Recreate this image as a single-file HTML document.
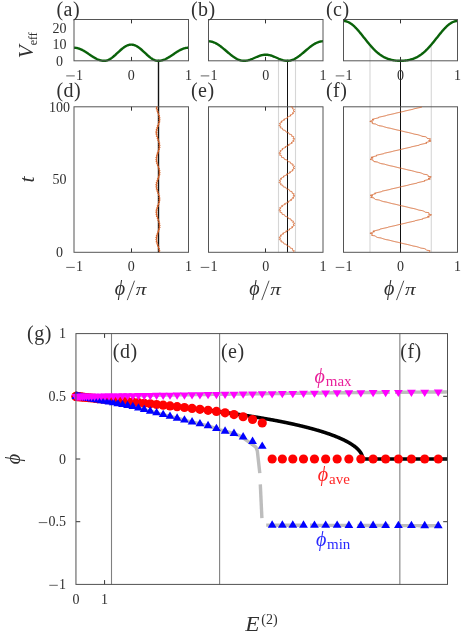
<!DOCTYPE html>
<html><head><meta charset="utf-8"><title>figure</title>
<style>
html,body{margin:0;padding:0;background:#fff;}
body{width:463px;height:635px;overflow:hidden;font-family:"Liberation Serif",serif;}
svg{display:block;}
svg text{font-family:"Liberation Serif",serif;}
</style></head><body>
<svg width="463" height="635" viewBox="0 0 463 635">
<rect width="463" height="635" fill="#fff"/>
<g opacity="0.999">
<line x1="157.50" y1="60.72" x2="157.50" y2="252.30" stroke="#c4c4c4" stroke-width="0.8" />
<line x1="159.50" y1="60.72" x2="159.50" y2="252.30" stroke="#c4c4c4" stroke-width="0.8" />
<line x1="158.50" y1="59.80" x2="158.50" y2="252.30" stroke="#111" stroke-width="1" />
<clipPath id="c10"><rect x="74.0" y="19.5" width="114.5" height="42.5"/></clipPath>
<path d="M74.00,47.75 L74.57,47.76 L75.15,47.80 L75.72,47.85 L76.29,47.93 L76.86,48.04 L77.44,48.16 L78.01,48.31 L78.58,48.48 L79.15,48.66 L79.72,48.87 L80.30,49.10 L80.87,49.35 L81.44,49.61 L82.02,49.89 L82.59,50.18 L83.16,50.49 L83.73,50.82 L84.31,51.15 L84.88,51.50 L85.45,51.86 L86.02,52.22 L86.59,52.59 L87.17,52.97 L87.74,53.35 L88.31,53.74 L88.88,54.13 L89.46,54.52 L90.03,54.91 L90.60,55.29 L91.18,55.67 L91.75,56.05 L92.32,56.42 L92.89,56.78 L93.47,57.14 L94.04,57.48 L94.61,57.81 L95.18,58.13 L95.75,58.44 L96.33,58.73 L96.90,59.01 L97.47,59.27 L98.04,59.51 L98.62,59.73 L99.19,59.93 L99.76,60.12 L100.33,60.28 L100.91,60.42 L101.48,60.54 L102.05,60.64 L102.62,60.71 L103.20,60.76 L103.77,60.79 L104.34,60.80 L104.92,60.77 L105.49,60.71 L106.06,60.61 L106.63,60.48 L107.20,60.31 L107.78,60.11 L108.35,59.88 L108.92,59.61 L109.50,59.32 L110.07,58.99 L110.64,58.64 L111.21,58.26 L111.78,57.86 L112.36,57.43 L112.93,56.98 L113.50,56.52 L114.07,56.03 L114.65,55.54 L115.22,55.03 L115.79,54.51 L116.36,53.98 L116.94,53.44 L117.51,52.91 L118.08,52.37 L118.66,51.83 L119.23,51.30 L119.80,50.77 L120.37,50.26 L120.94,49.75 L121.52,49.25 L122.09,48.77 L122.66,48.31 L123.23,47.87 L123.81,47.45 L124.38,47.05 L124.95,46.68 L125.53,46.33 L126.10,46.02 L126.67,45.73 L127.24,45.47 L127.81,45.25 L128.39,45.05 L128.96,44.89 L129.53,44.77 L130.10,44.68 L130.68,44.63 L131.25,44.61 L131.82,44.63 L132.40,44.68 L132.97,44.77 L133.54,44.89 L134.11,45.05 L134.69,45.25 L135.26,45.47 L135.83,45.73 L136.40,46.02 L136.97,46.33 L137.55,46.68 L138.12,47.05 L138.69,47.45 L139.26,47.87 L139.84,48.31 L140.41,48.77 L140.98,49.25 L141.56,49.75 L142.13,50.26 L142.70,50.77 L143.27,51.30 L143.84,51.83 L144.42,52.37 L144.99,52.91 L145.56,53.44 L146.13,53.98 L146.71,54.51 L147.28,55.03 L147.85,55.54 L148.43,56.03 L149.00,56.52 L149.57,56.98 L150.14,57.43 L150.72,57.86 L151.29,58.26 L151.86,58.64 L152.43,58.99 L153.00,59.32 L153.58,59.61 L154.15,59.88 L154.72,60.11 L155.29,60.31 L155.87,60.48 L156.44,60.61 L157.01,60.71 L157.59,60.77 L158.16,60.80 L158.73,60.79 L159.30,60.76 L159.88,60.71 L160.45,60.64 L161.02,60.54 L161.59,60.42 L162.16,60.28 L162.74,60.12 L163.31,59.93 L163.88,59.73 L164.46,59.51 L165.03,59.27 L165.60,59.01 L166.17,58.73 L166.75,58.44 L167.32,58.13 L167.89,57.81 L168.46,57.48 L169.03,57.14 L169.61,56.78 L170.18,56.42 L170.75,56.05 L171.32,55.67 L171.90,55.29 L172.47,54.91 L173.04,54.52 L173.62,54.13 L174.19,53.74 L174.76,53.35 L175.33,52.97 L175.91,52.59 L176.48,52.22 L177.05,51.86 L177.62,51.50 L178.19,51.15 L178.77,50.82 L179.34,50.49 L179.91,50.18 L180.49,49.89 L181.06,49.61 L181.63,49.35 L182.20,49.10 L182.77,48.87 L183.35,48.66 L183.92,48.48 L184.49,48.31 L185.06,48.16 L185.64,48.04 L186.21,47.93 L186.78,47.85 L187.35,47.80 L187.93,47.76 L188.50,47.75" fill="none" stroke="#0a620a" stroke-width="2.4" stroke-linejoin="round" clip-path="url(#c10)"/>
<rect x="74.00" y="19.50" width="114.50" height="41.30" fill="none" stroke="#555" stroke-width="1"/>
<rect x="74.00" y="106.80" width="114.50" height="145.50" fill="none" stroke="#555" stroke-width="1"/>
<line x1="131.50" y1="19.50" x2="131.50" y2="23.40" stroke="#333" stroke-width="1" />
<line x1="131.50" y1="60.80" x2="131.50" y2="56.90" stroke="#333" stroke-width="1" />
<line x1="131.50" y1="106.80" x2="131.50" y2="110.70" stroke="#333" stroke-width="1" />
<line x1="131.50" y1="252.30" x2="131.50" y2="248.40" stroke="#333" stroke-width="1" />
<line x1="66.23" y1="75.90" x2="74.77" y2="75.90" stroke="#303030" stroke-width="0.75" />
<text x="75.96" y="79.50" font-size="14" text-anchor="start" fill="#303030" style="" >1</text>
<text x="127.75" y="79.50" font-size="14" text-anchor="start" fill="#303030" style="" >0</text>
<text x="185.00" y="79.50" font-size="14" text-anchor="start" fill="#303030" style="" >1</text>
<line x1="66.23" y1="267.40" x2="74.77" y2="267.40" stroke="#303030" stroke-width="0.75" />
<text x="75.96" y="271.00" font-size="14" text-anchor="start" fill="#303030" style="" >1</text>
<text x="127.75" y="271.00" font-size="14" text-anchor="start" fill="#303030" style="" >0</text>
<text x="185.00" y="271.00" font-size="14" text-anchor="start" fill="#303030" style="" >1</text>
<text x="114.65" y="295.30" font-size="20" text-anchor="start" fill="#303030" style="font-style:italic" >ϕ</text>
<line x1="127.25" y1="300.10" x2="134.55" y2="280.70" stroke="#303030" stroke-width="0.85" />
<g transform="translate(135.85,295.30) scale(1.12,0.9)"><text x="0" y="0" font-size="19" font-style="italic" fill="#303030">π</text></g>
<line x1="278.50" y1="58.59" x2="278.50" y2="252.30" stroke="#d6d6d6" stroke-width="1.1" />
<line x1="295.50" y1="58.59" x2="295.50" y2="252.30" stroke="#d6d6d6" stroke-width="1.1" />
<line x1="287.50" y1="59.80" x2="287.50" y2="252.30" stroke="#111" stroke-width="1" />
<clipPath id="c11"><rect x="208.5" y="19.5" width="114.5" height="42.5"/></clipPath>
<path d="M208.50,41.31 L209.07,41.32 L209.65,41.36 L210.22,41.42 L210.79,41.50 L211.36,41.62 L211.94,41.75 L212.51,41.91 L213.08,42.09 L213.65,42.30 L214.22,42.52 L214.80,42.77 L215.37,43.04 L215.94,43.33 L216.51,43.64 L217.09,43.97 L217.66,44.32 L218.23,44.68 L218.81,45.06 L219.38,45.46 L219.95,45.87 L220.52,46.29 L221.09,46.73 L221.67,47.18 L222.24,47.63 L222.81,48.10 L223.38,48.57 L223.96,49.05 L224.53,49.53 L225.10,50.02 L225.68,50.51 L226.25,51.00 L226.82,51.50 L227.39,51.99 L227.97,52.48 L228.54,52.96 L229.11,53.44 L229.68,53.91 L230.25,54.38 L230.83,54.84 L231.40,55.29 L231.97,55.73 L232.54,56.15 L233.12,56.57 L233.69,56.96 L234.26,57.35 L234.84,57.72 L235.41,58.07 L235.98,58.40 L236.55,58.71 L237.12,59.01 L237.70,59.28 L238.27,59.53 L238.84,59.77 L239.41,59.98 L239.99,60.16 L240.56,60.33 L241.13,60.47 L241.70,60.58 L242.28,60.67 L242.85,60.74 L243.42,60.78 L244.00,60.80 L244.57,60.79 L245.14,60.77 L245.71,60.72 L246.28,60.65 L246.86,60.56 L247.43,60.45 L248.00,60.32 L248.57,60.18 L249.15,60.02 L249.72,59.84 L250.29,59.65 L250.87,59.44 L251.44,59.23 L252.01,59.00 L252.58,58.77 L253.16,58.52 L253.73,58.27 L254.30,58.02 L254.87,57.77 L255.44,57.52 L256.02,57.26 L256.59,57.01 L257.16,56.77 L257.74,56.53 L258.31,56.30 L258.88,56.09 L259.45,55.88 L260.02,55.68 L260.60,55.50 L261.17,55.34 L261.74,55.19 L262.31,55.06 L262.89,54.95 L263.46,54.85 L264.03,54.78 L264.61,54.73 L265.18,54.70 L265.75,54.69 L266.32,54.70 L266.89,54.73 L267.47,54.78 L268.04,54.85 L268.61,54.95 L269.19,55.06 L269.76,55.19 L270.33,55.34 L270.90,55.50 L271.48,55.68 L272.05,55.88 L272.62,56.09 L273.19,56.30 L273.76,56.53 L274.34,56.77 L274.91,57.01 L275.48,57.26 L276.06,57.52 L276.63,57.77 L277.20,58.02 L277.77,58.27 L278.35,58.52 L278.92,58.77 L279.49,59.00 L280.06,59.23 L280.63,59.44 L281.21,59.65 L281.78,59.84 L282.35,60.02 L282.93,60.18 L283.50,60.32 L284.07,60.45 L284.64,60.56 L285.22,60.65 L285.79,60.72 L286.36,60.77 L286.93,60.79 L287.50,60.80 L288.08,60.78 L288.65,60.74 L289.22,60.67 L289.80,60.58 L290.37,60.47 L290.94,60.33 L291.51,60.16 L292.08,59.98 L292.66,59.77 L293.23,59.53 L293.80,59.28 L294.38,59.01 L294.95,58.71 L295.52,58.40 L296.09,58.07 L296.67,57.72 L297.24,57.35 L297.81,56.96 L298.38,56.57 L298.95,56.15 L299.53,55.73 L300.10,55.29 L300.67,54.84 L301.25,54.38 L301.82,53.91 L302.39,53.44 L302.96,52.96 L303.53,52.48 L304.11,51.99 L304.68,51.50 L305.25,51.00 L305.82,50.51 L306.40,50.02 L306.97,49.53 L307.54,49.05 L308.12,48.57 L308.69,48.10 L309.26,47.63 L309.83,47.18 L310.40,46.73 L310.98,46.29 L311.55,45.87 L312.12,45.46 L312.69,45.06 L313.27,44.68 L313.84,44.32 L314.41,43.97 L314.99,43.64 L315.56,43.33 L316.13,43.04 L316.70,42.77 L317.27,42.52 L317.85,42.30 L318.42,42.09 L318.99,41.91 L319.56,41.75 L320.14,41.62 L320.71,41.50 L321.28,41.42 L321.86,41.36 L322.43,41.32 L323.00,41.31" fill="none" stroke="#0a620a" stroke-width="2.4" stroke-linejoin="round" clip-path="url(#c11)"/>
<rect x="208.50" y="19.50" width="114.50" height="41.30" fill="none" stroke="#555" stroke-width="1"/>
<rect x="208.50" y="106.80" width="114.50" height="145.50" fill="none" stroke="#555" stroke-width="1"/>
<line x1="265.50" y1="19.50" x2="265.50" y2="23.40" stroke="#333" stroke-width="1" />
<line x1="265.50" y1="60.80" x2="265.50" y2="56.90" stroke="#333" stroke-width="1" />
<line x1="265.50" y1="106.80" x2="265.50" y2="110.70" stroke="#333" stroke-width="1" />
<line x1="265.50" y1="252.30" x2="265.50" y2="248.40" stroke="#333" stroke-width="1" />
<line x1="200.73" y1="75.90" x2="209.27" y2="75.90" stroke="#303030" stroke-width="0.75" />
<text x="210.46" y="79.50" font-size="14" text-anchor="start" fill="#303030" style="" >1</text>
<text x="262.25" y="79.50" font-size="14" text-anchor="start" fill="#303030" style="" >0</text>
<text x="319.50" y="79.50" font-size="14" text-anchor="start" fill="#303030" style="" >1</text>
<line x1="200.73" y1="267.40" x2="209.27" y2="267.40" stroke="#303030" stroke-width="0.75" />
<text x="210.46" y="271.00" font-size="14" text-anchor="start" fill="#303030" style="" >1</text>
<text x="262.25" y="271.00" font-size="14" text-anchor="start" fill="#303030" style="" >0</text>
<text x="319.50" y="271.00" font-size="14" text-anchor="start" fill="#303030" style="" >1</text>
<text x="249.15" y="295.30" font-size="20" text-anchor="start" fill="#303030" style="font-style:italic" >ϕ</text>
<line x1="261.75" y1="300.10" x2="269.05" y2="280.70" stroke="#303030" stroke-width="0.85" />
<g transform="translate(270.35,295.30) scale(1.12,0.9)"><text x="0" y="0" font-size="19" font-style="italic" fill="#303030">π</text></g>
<line x1="370.00" y1="45.01" x2="370.00" y2="252.30" stroke="#d6d6d6" stroke-width="1.1" />
<line x1="431.28" y1="44.67" x2="431.28" y2="252.30" stroke="#d6d6d6" stroke-width="1.1" />
<line x1="400.50" y1="59.80" x2="400.50" y2="252.30" stroke="#111" stroke-width="1" />
<clipPath id="c12"><rect x="343.5" y="19.5" width="114.0" height="42.5"/></clipPath>
<path d="M343.50,20.99 L344.07,21.00 L344.64,21.05 L345.21,21.13 L345.78,21.24 L346.35,21.39 L346.92,21.56 L347.49,21.77 L348.06,22.01 L348.63,22.27 L349.20,22.57 L349.77,22.90 L350.34,23.25 L350.91,23.63 L351.48,24.04 L352.05,24.47 L352.62,24.93 L353.19,25.41 L353.76,25.92 L354.33,26.44 L354.90,26.99 L355.47,27.56 L356.04,28.15 L356.61,28.75 L357.18,29.37 L357.75,30.01 L358.32,30.65 L358.89,31.32 L359.46,31.99 L360.03,32.67 L360.60,33.37 L361.17,34.07 L361.74,34.77 L362.31,35.48 L362.88,36.20 L363.45,36.92 L364.02,37.64 L364.59,38.36 L365.16,39.08 L365.73,39.80 L366.30,40.51 L366.87,41.22 L367.44,41.93 L368.01,42.62 L368.58,43.32 L369.15,44.00 L369.72,44.67 L370.29,45.34 L370.86,46.00 L371.43,46.64 L372.00,47.27 L372.57,47.89 L373.14,48.49 L373.71,49.09 L374.28,49.66 L374.85,50.23 L375.42,50.78 L375.99,51.31 L376.56,51.83 L377.13,52.33 L377.70,52.81 L378.27,53.28 L378.84,53.73 L379.41,54.17 L379.98,54.59 L380.55,54.99 L381.12,55.38 L381.69,55.75 L382.26,56.11 L382.83,56.44 L383.40,56.77 L383.97,57.08 L384.54,57.37 L385.11,57.65 L385.68,57.91 L386.25,58.16 L386.82,58.39 L387.39,58.61 L387.96,58.82 L388.53,59.02 L389.10,59.20 L389.67,59.37 L390.24,59.53 L390.81,59.68 L391.38,59.82 L391.95,59.94 L392.52,60.06 L393.09,60.17 L393.66,60.27 L394.23,60.35 L394.80,60.43 L395.37,60.51 L395.94,60.57 L396.51,60.62 L397.08,60.67 L397.65,60.71 L398.22,60.74 L398.79,60.77 L399.36,60.79 L399.93,60.80 L400.50,60.80 L401.07,60.80 L401.64,60.79 L402.21,60.77 L402.78,60.74 L403.35,60.71 L403.92,60.67 L404.49,60.62 L405.06,60.57 L405.63,60.51 L406.20,60.43 L406.77,60.35 L407.34,60.27 L407.91,60.17 L408.48,60.06 L409.05,59.94 L409.62,59.82 L410.19,59.68 L410.76,59.53 L411.33,59.37 L411.90,59.20 L412.47,59.02 L413.04,58.82 L413.61,58.61 L414.18,58.39 L414.75,58.16 L415.32,57.91 L415.89,57.65 L416.46,57.37 L417.03,57.08 L417.60,56.77 L418.17,56.44 L418.74,56.11 L419.31,55.75 L419.88,55.38 L420.45,54.99 L421.02,54.59 L421.59,54.17 L422.16,53.73 L422.73,53.28 L423.30,52.81 L423.87,52.33 L424.44,51.83 L425.01,51.31 L425.58,50.78 L426.15,50.23 L426.72,49.66 L427.29,49.09 L427.86,48.49 L428.43,47.89 L429.00,47.27 L429.57,46.64 L430.14,46.00 L430.71,45.34 L431.28,44.67 L431.85,44.00 L432.42,43.32 L432.99,42.62 L433.56,41.93 L434.13,41.22 L434.70,40.51 L435.27,39.80 L435.84,39.08 L436.41,38.36 L436.98,37.64 L437.55,36.92 L438.12,36.20 L438.69,35.48 L439.26,34.77 L439.83,34.07 L440.40,33.37 L440.97,32.67 L441.54,31.99 L442.11,31.32 L442.68,30.65 L443.25,30.01 L443.82,29.37 L444.39,28.75 L444.96,28.15 L445.53,27.56 L446.10,26.99 L446.67,26.44 L447.24,25.92 L447.81,25.41 L448.38,24.93 L448.95,24.47 L449.52,24.04 L450.09,23.63 L450.66,23.25 L451.23,22.90 L451.80,22.57 L452.37,22.27 L452.94,22.01 L453.51,21.77 L454.08,21.56 L454.65,21.39 L455.22,21.24 L455.79,21.13 L456.36,21.05 L456.93,21.00 L457.50,20.99" fill="none" stroke="#0a620a" stroke-width="2.4" stroke-linejoin="round" clip-path="url(#c12)"/>
<rect x="343.50" y="19.50" width="114.00" height="41.30" fill="none" stroke="#555" stroke-width="1"/>
<rect x="343.50" y="106.80" width="114.00" height="145.50" fill="none" stroke="#555" stroke-width="1"/>
<line x1="400.50" y1="19.50" x2="400.50" y2="23.40" stroke="#333" stroke-width="1" />
<line x1="400.50" y1="60.80" x2="400.50" y2="56.90" stroke="#333" stroke-width="1" />
<line x1="400.50" y1="106.80" x2="400.50" y2="110.70" stroke="#333" stroke-width="1" />
<line x1="400.50" y1="252.30" x2="400.50" y2="248.40" stroke="#333" stroke-width="1" />
<line x1="335.73" y1="75.90" x2="344.27" y2="75.90" stroke="#303030" stroke-width="0.75" />
<text x="345.46" y="79.50" font-size="14" text-anchor="start" fill="#303030" style="" >1</text>
<text x="397.00" y="79.50" font-size="14" text-anchor="start" fill="#303030" style="" >0</text>
<text x="454.00" y="79.50" font-size="14" text-anchor="start" fill="#303030" style="" >1</text>
<line x1="335.73" y1="267.40" x2="344.27" y2="267.40" stroke="#303030" stroke-width="0.75" />
<text x="345.46" y="271.00" font-size="14" text-anchor="start" fill="#303030" style="" >1</text>
<text x="397.00" y="271.00" font-size="14" text-anchor="start" fill="#303030" style="" >0</text>
<text x="454.00" y="271.00" font-size="14" text-anchor="start" fill="#303030" style="" >1</text>
<text x="383.90" y="295.30" font-size="20" text-anchor="start" fill="#303030" style="font-style:italic" >ϕ</text>
<line x1="396.50" y1="300.10" x2="403.80" y2="280.70" stroke="#303030" stroke-width="0.85" />
<g transform="translate(405.10,295.30) scale(1.12,0.9)"><text x="0" y="0" font-size="19" font-style="italic" fill="#303030">π</text></g>
<path d="M158.96,252.30 L159.03,252.18 L159.11,252.06 L159.18,251.94 L159.25,251.81 L159.32,251.69 L159.39,251.57 L159.46,251.45 L159.53,251.33 L159.59,251.21 L159.66,251.09 L159.72,250.97 L159.78,250.84 L159.84,250.72 L159.75,250.60 L159.46,250.48 L159.18,250.36 L158.89,250.24 L158.80,250.12 L158.86,250.00 L158.91,249.88 L158.96,249.75 L159.01,249.63 L159.06,249.51 L159.11,249.39 L159.16,249.27 L159.20,249.15 L159.25,249.03 L159.29,248.91 L159.34,248.78 L159.38,248.66 L159.41,248.54 L159.11,248.42 L158.80,248.30 L158.50,248.18 L158.26,248.06 L158.30,247.94 L158.34,247.81 L158.37,247.69 L158.41,247.57 L158.45,247.45 L158.48,247.33 L158.52,247.21 L158.55,247.09 L158.59,246.97 L158.62,246.84 L158.65,246.72 L158.69,246.60 L158.72,246.48 L158.53,246.36 L158.22,246.24 L157.91,246.12 L157.60,246.00 L157.56,245.87 L157.59,245.75 L157.62,245.63 L157.65,245.51 L157.68,245.39 L157.72,245.27 L157.75,245.15 L157.78,245.03 L157.81,244.90 L157.85,244.78 L157.88,244.66 L157.91,244.54 L157.94,244.42 L157.90,244.30 L157.59,244.18 L157.28,244.06 L156.97,243.93 L156.80,243.81 L156.83,243.69 L156.87,243.57 L156.91,243.45 L156.94,243.33 L156.98,243.21 L157.02,243.09 L157.06,242.96 L157.10,242.84 L157.14,242.72 L157.19,242.60 L157.23,242.48 L157.27,242.36 L157.32,242.24 L157.08,242.12 L156.78,241.99 L156.48,241.87 L156.18,241.75 L156.23,241.63 L156.29,241.51 L156.34,241.39 L156.39,241.27 L156.44,241.15 L156.50,241.02 L156.55,240.90 L156.61,240.78 L156.67,240.66 L156.73,240.54 L156.79,240.42 L156.85,240.30 L156.91,240.18 L156.83,240.05 L156.55,239.93 L156.27,239.81 L156.00,239.69 L155.93,239.57 L156.00,239.45 L156.07,239.33 L156.14,239.21 L156.22,239.08 L156.29,238.96 L156.37,238.84 L156.45,238.72 L156.53,238.60 L156.61,238.48 L156.69,238.36 L156.77,238.24 L156.86,238.11 L156.93,237.99 L156.67,237.87 L156.42,237.75 L156.16,237.63 L155.98,237.51 L156.07,237.39 L156.16,237.27 L156.25,237.14 L156.35,237.02 L156.45,236.90 L156.54,236.78 L156.64,236.66 L156.74,236.54 L156.84,236.42 L156.94,236.30 L157.05,236.17 L157.15,236.05 L157.25,235.93 L157.14,235.81 L156.90,235.69 L156.67,235.57 L156.43,235.45 L156.47,235.33 L156.58,235.20 L156.69,235.08 L156.80,234.96 L156.91,234.84 L157.03,234.72 L157.14,234.60 L157.26,234.48 L157.37,234.36 L157.49,234.23 L157.60,234.11 L157.72,233.99 L157.84,233.87 L157.87,233.75 L157.65,233.63 L157.42,233.51 L157.19,233.39 L157.11,233.26 L157.23,233.14 L157.34,233.02 L157.46,232.90 L157.58,232.78 L157.70,232.66 L157.82,232.54 L157.94,232.42 L158.06,232.29 L158.18,232.17 L158.30,232.05 L158.42,231.93 L158.54,231.81 L158.66,231.69 L158.50,231.57 L158.27,231.45 L158.05,231.32 L157.82,231.20 L157.94,231.08 L158.06,230.96 L158.17,230.84 L158.29,230.72 L158.41,230.60 L158.52,230.48 L158.64,230.35 L158.75,230.23 L158.87,230.11 L158.98,229.99 L159.10,229.87 L159.21,229.75 L159.32,229.63 L159.28,229.50 L159.05,229.38 L158.81,229.26 L158.58,229.14 L158.55,229.02 L158.65,228.90 L158.76,228.78 L158.87,228.66 L158.97,228.54 L159.07,228.41 L159.17,228.29 L159.28,228.17 L159.38,228.05 L159.47,227.93 L159.57,227.81 L159.67,227.69 L159.76,227.56 L159.85,227.44 L159.60,227.32 L159.34,227.20 L159.09,227.08 L158.90,226.96 L158.99,226.84 L159.08,226.72 L159.17,226.60 L159.25,226.47 L159.33,226.35 L159.42,226.23 L159.50,226.11 L159.58,225.99 L159.66,225.87 L159.73,225.75 L159.81,225.62 L159.88,225.50 L159.96,225.38 L159.81,225.26 L159.54,225.14 L159.26,225.02 L158.99,224.90 L158.99,224.78 L159.05,224.66 L159.12,224.53 L159.18,224.41 L159.24,224.29 L159.30,224.17 L159.36,224.05 L159.42,223.93 L159.48,223.81 L159.54,223.69 L159.59,223.56 L159.65,223.44 L159.70,223.32 L159.67,223.20 L159.38,223.08 L159.08,222.96 L158.79,222.84 L158.63,222.72 L158.67,222.59 L158.72,222.47 L158.77,222.35 L158.81,222.23 L158.85,222.11 L158.90,221.99 L158.94,221.87 L158.98,221.75 L159.02,221.62 L159.06,221.50 L159.10,221.38 L159.14,221.26 L159.17,221.14 L158.92,221.02 L158.61,220.90 L158.31,220.78 L158.00,220.65 L158.03,220.53 L158.06,220.41 L158.10,220.29 L158.13,220.17 L158.17,220.05 L158.20,219.93 L158.23,219.81 L158.26,219.68 L158.30,219.56 L158.33,219.44 L158.36,219.32 L158.39,219.20 L158.42,219.08 L158.31,218.96 L157.99,218.84 L157.68,218.71 L157.37,218.59 L157.26,218.47 L157.29,218.35 L157.32,218.23 L157.36,218.11 L157.39,217.99 L157.42,217.87 L157.46,217.74 L157.49,217.62 L157.53,217.50 L157.56,217.38 L157.60,217.26 L157.63,217.14 L157.67,217.02 L157.69,216.90 L157.39,216.77 L157.08,216.65 L156.77,216.53 L156.54,216.41 L156.58,216.29 L156.62,216.17 L156.66,216.05 L156.70,215.93 L156.75,215.80 L156.79,215.68 L156.83,215.56 L156.88,215.44 L156.93,215.32 L156.98,215.20 L157.02,215.08 L157.07,214.96 L157.13,214.83 L156.96,214.71 L156.67,214.59 L156.38,214.47 L156.09,214.35 L156.08,214.23 L156.13,214.11 L156.19,213.99 L156.25,213.86 L156.31,213.74 L156.38,213.62 L156.44,213.50 L156.50,213.38 L156.57,213.26 L156.64,213.14 L156.71,213.02 L156.78,212.89 L156.85,212.77 L156.84,212.65 L156.57,212.53 L156.30,212.41 L156.03,212.29 L155.90,212.17 L155.98,212.05 L156.06,211.92 L156.14,211.80 L156.22,211.68 L156.30,211.56 L156.39,211.44 L156.48,211.32 L156.56,211.20 L156.65,211.08 L156.74,210.95 L156.83,210.83 L156.92,210.71 L157.02,210.59 L156.83,210.47 L156.58,210.35 L156.33,210.23 L156.08,210.11 L156.18,209.98 L156.28,209.86 L156.38,209.74 L156.48,209.62 L156.59,209.50 L156.69,209.38 L156.80,209.26 L156.90,209.14 L157.01,209.01 L157.12,208.89 L157.22,208.77 L157.33,208.65 L157.44,208.53 L157.41,208.41 L157.17,208.29 L156.94,208.17 L156.71,208.04 L156.69,207.92 L156.80,207.80 L156.92,207.68 L157.03,207.56 L157.15,207.44 L157.26,207.32 L157.38,207.20 L157.50,207.07 L157.62,206.95 L157.74,206.83 L157.85,206.71 L157.97,206.59 L158.09,206.47 L158.20,206.35 L157.98,206.23 L157.75,206.10 L157.53,205.98 L157.37,205.86 L157.49,205.74 L157.61,205.62 L157.73,205.50 L157.85,205.38 L157.97,205.25 L158.09,205.13 L158.21,205.01 L158.33,204.89 L158.45,204.77 L158.57,204.65 L158.69,204.53 L158.81,204.41 L158.92,204.29 L158.82,204.16 L158.60,204.04 L158.37,203.92 L158.14,203.80 L158.18,203.68 L158.30,203.56 L158.41,203.44 L158.53,203.31 L158.64,203.19 L158.75,203.07 L158.86,202.95 L158.98,202.83 L159.09,202.71 L159.19,202.59 L159.30,202.47 L159.41,202.35 L159.52,202.22 L159.54,202.10 L159.30,201.98 L159.06,201.86 L158.82,201.74 L158.71,201.62 L158.81,201.50 L158.91,201.38 L159.01,201.25 L159.11,201.13 L159.21,201.01 L159.30,200.89 L159.40,200.77 L159.49,200.65 L159.58,200.53 L159.67,200.41 L159.76,200.28 L159.85,200.16 L159.93,200.04 L159.73,199.92 L159.47,199.80 L159.21,199.68 L158.95,199.56 L159.03,199.44 L159.11,199.31 L159.19,199.19 L159.26,199.07 L159.34,198.95 L159.41,198.83 L159.49,198.71 L159.56,198.59 L159.63,198.47 L159.70,198.34 L159.77,198.22 L159.83,198.10 L159.90,197.98 L159.81,197.86 L159.53,197.74 L159.25,197.62 L158.96,197.50 L158.89,197.37 L158.94,197.25 L159.00,197.13 L159.06,197.01 L159.11,196.89 L159.17,196.77 L159.22,196.65 L159.27,196.53 L159.32,196.40 L159.37,196.28 L159.42,196.16 L159.47,196.04 L159.51,195.92 L159.55,195.80 L159.25,195.68 L158.95,195.56 L158.65,195.43 L158.41,195.31 L158.45,195.19 L158.49,195.07 L158.53,194.95 L158.57,194.83 L158.61,194.71 L158.65,194.59 L158.69,194.46 L158.72,194.34 L158.76,194.22 L158.79,194.10 L158.83,193.98 L158.86,193.86 L158.90,193.74 L158.72,193.62 L158.40,193.49 L158.09,193.37 L157.78,193.25 L157.74,193.13 L157.77,193.01 L157.81,192.89 L157.84,192.77 L157.87,192.65 L157.90,192.52 L157.93,192.40 L157.97,192.28 L158.00,192.16 L158.03,192.04 L158.06,191.92 L158.09,191.80 L158.13,191.68 L158.08,191.55 L157.77,191.43 L157.45,191.31 L157.14,191.19 L156.97,191.07 L157.00,190.95 L157.04,190.83 L157.07,190.71 L157.11,190.58 L157.14,190.46 L157.18,190.34 L157.22,190.22 L157.26,190.10 L157.29,189.98 L157.33,189.86 L157.37,189.74 L157.41,189.61 L157.45,189.49 L157.21,189.37 L156.91,189.25 L156.61,189.13 L156.31,189.01 L156.35,188.89 L156.40,188.77 L156.45,188.64 L156.49,188.52 L156.54,188.40 L156.59,188.28 L156.65,188.16 L156.70,188.04 L156.75,187.92 L156.81,187.80 L156.86,187.67 L156.92,187.55 L156.98,187.43 L156.89,187.31 L156.60,187.19 L156.32,187.07 L156.04,186.95 L155.96,186.83 L156.03,186.70 L156.10,186.58 L156.16,186.46 L156.23,186.34 L156.30,186.22 L156.37,186.10 L156.45,185.98 L156.52,185.86 L156.60,185.73 L156.67,185.61 L156.75,185.49 L156.83,185.37 L156.90,185.25 L156.64,185.13 L156.37,185.01 L156.11,184.88 L155.92,184.76 L156.01,184.64 L156.10,184.52 L156.19,184.40 L156.28,184.28 L156.37,184.16 L156.46,184.04 L156.55,183.92 L156.65,183.79 L156.75,183.67 L156.84,183.55 L156.94,183.43 L157.04,183.31 L157.14,183.19 L157.03,183.07 L156.78,182.94 L156.54,182.82 L156.30,182.70 L156.34,182.58 L156.44,182.46 L156.55,182.34 L156.66,182.22 L156.77,182.10 L156.88,181.98 L156.99,181.85 L157.10,181.73 L157.21,181.61 L157.32,181.49 L157.44,181.37 L157.55,181.25 L157.67,181.13 L157.70,181.00 L157.47,180.88 L157.25,180.76 L157.02,180.64 L156.93,180.52 L157.05,180.40 L157.16,180.28 L157.28,180.16 L157.40,180.04 L157.52,179.91 L157.64,179.79 L157.76,179.67 L157.88,179.55 L158.00,179.43 L158.12,179.31 L158.24,179.19 L158.36,179.06 L158.48,178.94 L158.31,178.82 L158.09,178.70 L157.86,178.58 L157.64,178.46 L157.76,178.34 L157.88,178.22 L158.00,178.10 L158.11,177.97 L158.23,177.85 L158.35,177.73 L158.47,177.61 L158.59,177.49 L158.70,177.37 L158.82,177.25 L158.94,177.12 L159.05,177.00 L159.17,176.88 L159.13,176.76 L158.90,176.64 L158.67,176.52 L158.43,176.40 L158.41,176.28 L158.52,176.16 L158.63,176.03 L158.74,175.91 L158.84,175.79 L158.95,175.67 L159.06,175.55 L159.16,175.43 L159.27,175.31 L159.37,175.19 L159.47,175.06 L159.57,174.94 L159.67,174.82 L159.76,174.70 L159.52,174.58 L159.27,174.46 L159.02,174.34 L158.84,174.22 L158.93,174.09 L159.02,173.97 L159.11,173.85 L159.20,173.73 L159.29,173.61 L159.38,173.49 L159.47,173.37 L159.55,173.25 L159.64,173.12 L159.72,173.00 L159.80,172.88 L159.88,172.76 L159.96,172.64 L159.82,172.52 L159.55,172.40 L159.28,172.28 L159.01,172.15 L159.01,172.03 L159.08,171.91 L159.15,171.79 L159.22,171.67 L159.29,171.55 L159.36,171.43 L159.42,171.31 L159.49,171.18 L159.55,171.06 L159.61,170.94 L159.67,170.82 L159.73,170.70 L159.79,170.58 L159.77,170.46 L159.48,170.34 L159.18,170.21 L158.89,170.09 L158.74,169.97 L158.79,169.85 L158.84,169.73 L158.89,169.61 L158.94,169.49 L158.98,169.37 L159.03,169.24 L159.08,169.12 L159.12,169.00 L159.16,168.88 L159.21,168.76 L159.25,168.64 L159.29,168.52 L159.33,168.40 L159.08,168.27 L158.78,168.15 L158.47,168.03 L158.16,167.91 L158.20,167.79 L158.24,167.67 L158.27,167.55 L158.31,167.43 L158.34,167.30 L158.38,167.18 L158.41,167.06 L158.44,166.94 L158.48,166.82 L158.51,166.70 L158.54,166.58 L158.58,166.46 L158.61,166.33 L158.49,166.21 L158.18,166.09 L157.87,165.97 L157.55,165.85 L157.45,165.73 L157.48,165.61 L157.51,165.49 L157.54,165.36 L157.57,165.24 L157.60,165.12 L157.64,165.00 L157.67,164.88 L157.70,164.76 L157.74,164.64 L157.77,164.52 L157.80,164.39 L157.84,164.27 L157.86,164.15 L157.55,164.03 L157.24,163.91 L156.93,163.79 L156.69,163.67 L156.73,163.55 L156.77,163.42 L156.81,163.30 L156.85,163.18 L156.89,163.06 L156.93,162.94 L156.97,162.82 L157.01,162.70 L157.06,162.58 L157.10,162.45 L157.14,162.33 L157.19,162.21 L157.24,162.09 L157.07,161.97 L156.77,161.85 L156.48,161.73 L156.18,161.61 L156.17,161.48 L156.22,161.36 L156.27,161.24 L156.33,161.12 L156.38,161.00 L156.44,160.88 L156.50,160.76 L156.56,160.63 L156.62,160.51 L156.68,160.39 L156.75,160.27 L156.81,160.15 L156.88,160.03 L156.86,159.91 L156.59,159.79 L156.31,159.67 L156.04,159.54 L155.90,159.42 L155.98,159.30 L156.05,159.18 L156.13,159.06 L156.20,158.94 L156.28,158.82 L156.36,158.69 L156.44,158.57 L156.52,158.45 L156.61,158.33 L156.69,158.21 L156.78,158.09 L156.86,157.97 L156.95,157.85 L156.76,157.73 L156.50,157.60 L156.25,157.48 L156.00,157.36 L156.09,157.24 L156.19,157.12 L156.28,157.00 L156.38,156.88 L156.48,156.75 L156.58,156.63 L156.68,156.51 L156.78,156.39 L156.88,156.27 L156.99,156.15 L157.09,156.03 L157.20,155.91 L157.31,155.79 L157.27,155.66 L157.03,155.54 L156.79,155.42 L156.56,155.30 L156.53,155.18 L156.64,155.06 L156.76,154.94 L156.87,154.81 L156.98,154.69 L157.10,154.57 L157.21,154.45 L157.33,154.33 L157.44,154.21 L157.56,154.09 L157.68,153.97 L157.79,153.85 L157.91,153.72 L158.02,153.60 L157.79,153.48 L157.57,153.36 L157.34,153.24 L157.19,153.12 L157.31,153.00 L157.43,152.88 L157.55,152.75 L157.67,152.63 L157.79,152.51 L157.91,152.39 L158.03,152.27 L158.15,152.15 L158.27,152.03 L158.39,151.91 L158.51,151.78 L158.63,151.66 L158.74,151.54 L158.65,151.42 L158.42,151.30 L158.19,151.18 L157.97,151.06 L158.02,150.94 L158.13,150.81 L158.25,150.69 L158.37,150.57 L158.48,150.45 L158.60,150.33 L158.71,150.21 L158.82,150.09 L158.94,149.97 L159.05,149.84 L159.16,149.72 L159.27,149.60 L159.38,149.48 L159.41,149.36 L159.18,149.24 L158.94,149.12 L158.70,149.00 L158.60,148.87 L158.70,148.75 L158.81,148.63 L158.91,148.51 L159.01,148.39 L159.11,148.27 L159.21,148.15 L159.31,148.03 L159.41,147.90 L159.51,147.78 L159.60,147.66 L159.70,147.54 L159.79,147.42 L159.88,147.30 L159.69,147.18 L159.43,147.06 L159.17,146.93 L158.91,146.81 L159.00,146.69 L159.09,146.57 L159.17,146.45 L159.25,146.33 L159.33,146.21 L159.41,146.09 L159.49,145.96 L159.57,145.84 L159.64,145.72 L159.72,145.60 L159.79,145.48 L159.86,145.36 L159.93,145.24 L159.85,145.12 L159.58,144.99 L159.30,144.87 L159.02,144.75 L158.95,144.63 L159.01,144.51 L159.07,144.39 L159.13,144.27 L159.19,144.15 L159.25,144.02 L159.31,143.90 L159.36,143.78 L159.42,143.66 L159.47,143.54 L159.53,143.42 L159.58,143.30 L159.63,143.18 L159.67,143.05 L159.37,142.93 L159.08,142.81 L158.78,142.69 L158.55,142.57 L158.59,142.45 L158.64,142.33 L158.68,142.21 L158.72,142.08 L158.76,141.96 L158.80,141.84 L158.84,141.72 L158.88,141.60 L158.92,141.48 L158.96,141.36 L159.00,141.24 L159.03,141.11 L159.07,140.99 L158.89,140.87 L158.58,140.75 L158.27,140.63 L157.96,140.51 L157.92,140.39 L157.96,140.27 L157.99,140.14 L158.02,140.02 L158.05,139.90 L158.09,139.78 L158.12,139.66 L158.15,139.54 L158.18,139.42 L158.21,139.30 L158.25,139.17 L158.28,139.05 L158.31,138.93 L158.26,138.81 L157.95,138.69 L157.64,138.57 L157.32,138.45 L157.15,138.33 L157.18,138.20 L157.21,138.08 L157.25,137.96 L157.28,137.84 L157.32,137.72 L157.35,137.60 L157.38,137.48 L157.42,137.36 L157.46,137.23 L157.49,137.11 L157.53,136.99 L157.57,136.87 L157.60,136.75 L157.36,136.63 L157.05,136.51 L156.75,136.38 L156.44,136.26 L156.49,136.14 L156.53,136.02 L156.57,135.90 L156.62,135.78 L156.66,135.66 L156.71,135.54 L156.75,135.42 L156.80,135.29 L156.85,135.17 L156.90,135.05 L156.95,134.93 L157.01,134.81 L157.06,134.69 L156.97,134.57 L156.68,134.44 L156.39,134.32 L156.10,134.20 L156.02,134.08 L156.08,133.96 L156.14,133.84 L156.21,133.72 L156.27,133.60 L156.34,133.48 L156.40,133.35 L156.47,133.23 L156.54,133.11 L156.61,132.99 L156.68,132.87 L156.75,132.75 L156.83,132.63 L156.89,132.50 L156.62,132.38 L156.35,132.26 L156.09,132.14 L155.89,132.02 L155.97,131.90 L156.06,131.78 L156.14,131.66 L156.22,131.54 L156.31,131.41 L156.40,131.29 L156.49,131.17 L156.58,131.05 L156.67,130.93 L156.76,130.81 L156.85,130.69 L156.95,130.56 L157.04,130.44 L156.93,130.32 L156.68,130.20 L156.43,130.08 L156.19,129.96 L156.22,129.84 L156.32,129.72 L156.42,129.60 L156.53,129.47 L156.63,129.35 L156.74,129.23 L156.85,129.11 L156.96,128.99 L157.06,128.87 L157.17,128.75 L157.28,128.62 L157.40,128.50 L157.51,128.38 L157.54,128.26 L157.31,128.14 L157.08,128.02 L156.85,127.90 L156.76,127.78 L156.87,127.66 L156.99,127.53 L157.11,127.41 L157.22,127.29 L157.34,127.17 L157.46,127.05 L157.58,126.93 L157.70,126.81 L157.82,126.69 L157.93,126.56 L158.05,126.44 L158.17,126.32 L158.29,126.20 L158.13,126.08 L157.90,125.96 L157.68,125.84 L157.45,125.72 L157.57,125.59 L157.69,125.47 L157.81,125.35 L157.93,125.23 L158.05,125.11 L158.17,124.99 L158.29,124.87 L158.41,124.75 L158.53,124.62 L158.65,124.50 L158.76,124.38 L158.88,124.26 L159.00,124.14 L158.97,124.02 L158.74,123.90 L158.51,123.78 L158.28,123.65 L158.25,123.53 L158.37,123.41 L158.48,123.29 L158.59,123.17 L158.70,123.05 L158.81,122.93 L158.92,122.81 L159.03,122.68 L159.14,122.56 L159.25,122.44 L159.36,122.32 L159.46,122.20 L159.57,122.08 L159.66,121.96 L159.42,121.84 L159.17,121.71 L158.93,121.59 L158.75,121.47 L158.85,121.35 L158.95,121.23 L159.04,121.11 L159.14,120.99 L159.23,120.87 L159.32,120.74 L159.42,120.62 L159.51,120.50 L159.59,120.38 L159.68,120.26 L159.77,120.14 L159.85,120.02 L159.94,119.90 L159.80,119.77 L159.54,119.65 L159.28,119.53 L159.01,119.41 L159.02,119.29 L159.10,119.17 L159.17,119.05 L159.24,118.93 L159.32,118.80 L159.39,118.68 L159.46,118.56 L159.53,118.44 L159.60,118.32 L159.66,118.20 L159.73,118.08 L159.79,117.96 L159.85,117.83 L159.84,117.71 L159.55,117.59 L159.27,117.47 L158.98,117.35 L158.83,117.23 L158.89,117.11 L158.94,116.99 L158.99,116.86 L159.05,116.74 L159.10,116.62 L159.15,116.50 L159.20,116.38 L159.25,116.26 L159.29,116.14 L159.34,116.02 L159.39,115.89 L159.43,115.77 L159.47,115.65 L159.23,115.53 L158.93,115.41 L158.62,115.29 L158.32,115.17 L158.36,115.05 L158.40,114.92 L158.44,114.80 L158.47,114.68 L158.51,114.56 L158.55,114.44 L158.58,114.32 L158.62,114.20 L158.65,114.08 L158.69,113.95 L158.72,113.83 L158.76,113.71 L158.79,113.59 L158.67,113.47 L158.36,113.35 L158.05,113.23 L157.74,113.11 L157.63,112.98 L157.66,112.86 L157.69,112.74 L157.73,112.62 L157.76,112.50 L157.79,112.38 L157.82,112.26 L157.85,112.14 L157.89,112.01 L157.92,111.89 L157.95,111.77 L157.98,111.65 L158.01,111.53 L158.04,111.41 L157.73,111.29 L157.42,111.17 L157.10,111.04 L156.86,110.92 L156.90,110.80 L156.93,110.68 L156.97,110.56 L157.01,110.44 L157.04,110.32 L157.08,110.20 L157.12,110.07 L157.16,109.95 L157.20,109.83 L157.24,109.71 L157.28,109.59 L157.32,109.47 L157.37,109.35 L157.19,109.23 L156.89,109.10 L156.59,108.98 L156.29,108.86 L156.27,108.74 L156.32,108.62 L156.37,108.50 L156.42,108.38 L156.47,108.26 L156.53,108.13 L156.58,108.01 L156.63,107.89 L156.69,107.77 L156.75,107.65 L156.81,107.53 L156.87,107.41 L156.93,107.29 L156.91,107.16 L156.63,107.04 L156.35,106.92 L156.07,106.80" fill="none" stroke="#d4622a" stroke-width="1.1"  stroke-linejoin="miter"/>
<path d="M293.03,252.30 L293.16,252.18 L293.29,252.06 L293.41,251.94 L293.53,251.81 L293.64,251.69 L293.75,251.57 L293.85,251.45 L293.95,251.33 L294.04,251.21 L294.12,251.09 L294.21,250.97 L294.28,250.84 L294.35,250.72 L294.16,250.60 L293.61,250.48 L293.05,250.36 L292.49,250.24 L292.29,250.12 L292.34,250.00 L292.38,249.88 L292.41,249.75 L292.44,249.63 L292.47,249.51 L292.49,249.39 L292.51,249.27 L292.52,249.15 L292.53,249.03 L292.54,248.91 L292.54,248.78 L292.54,248.66 L292.52,248.54 L291.89,248.42 L291.27,248.30 L290.64,248.18 L290.13,248.06 L290.11,247.94 L290.09,247.81 L290.06,247.69 L290.03,247.57 L290.00,247.45 L289.96,247.33 L289.93,247.21 L289.89,247.09 L289.85,246.97 L289.80,246.84 L289.76,246.72 L289.71,246.60 L289.66,246.48 L289.23,246.36 L288.57,246.24 L287.90,246.12 L287.23,246.00 L287.06,245.87 L287.00,245.75 L286.95,245.63 L286.89,245.51 L286.84,245.39 L286.78,245.27 L286.72,245.15 L286.67,245.03 L286.61,244.90 L286.56,244.78 L286.50,244.66 L286.45,244.54 L286.39,244.42 L286.20,244.30 L285.54,244.18 L284.87,244.06 L284.21,243.93 L283.79,243.81 L283.75,243.69 L283.70,243.57 L283.66,243.45 L283.62,243.33 L283.58,243.21 L283.55,243.09 L283.51,242.96 L283.48,242.84 L283.45,242.72 L283.43,242.60 L283.40,242.48 L283.38,242.36 L283.37,242.24 L282.84,242.12 L282.22,241.99 L281.60,241.87 L280.98,241.75 L280.98,241.63 L280.99,241.51 L280.99,241.39 L281.00,241.27 L281.02,241.15 L281.04,241.02 L281.06,240.90 L281.09,240.78 L281.12,240.66 L281.16,240.54 L281.20,240.42 L281.24,240.30 L281.29,240.18 L281.08,240.05 L280.53,239.93 L279.98,239.81 L279.43,239.69 L279.26,239.57 L279.34,239.45 L279.42,239.33 L279.51,239.21 L279.60,239.08 L279.70,238.96 L279.81,238.84 L279.91,238.72 L280.03,238.60 L280.15,238.48 L280.27,238.36 L280.40,238.24 L280.53,238.11 L280.65,237.99 L280.19,237.87 L279.72,237.75 L279.26,237.63 L278.93,237.51 L279.10,237.39 L279.27,237.27 L279.44,237.14 L279.62,237.02 L279.80,236.90 L279.99,236.78 L280.19,236.66 L280.39,236.54 L280.59,236.42 L280.80,236.30 L281.02,236.17 L281.23,236.05 L281.46,235.93 L281.30,235.81 L280.92,235.69 L280.54,235.57 L280.17,235.45 L280.29,235.33 L280.54,235.20 L280.79,235.08 L281.05,234.96 L281.31,234.84 L281.58,234.72 L281.85,234.60 L282.12,234.48 L282.39,234.36 L282.67,234.23 L282.96,234.11 L283.24,233.99 L283.53,233.87 L283.68,233.75 L283.36,233.63 L283.05,233.51 L282.73,233.39 L282.67,233.26 L282.97,233.14 L283.28,233.02 L283.59,232.90 L283.90,232.78 L284.22,232.66 L284.53,232.54 L284.85,232.42 L285.17,232.29 L285.49,232.17 L285.81,232.05 L286.13,231.93 L286.45,231.81 L286.78,231.69 L286.59,231.57 L286.31,231.45 L286.02,231.32 L285.73,231.20 L286.06,231.08 L286.38,230.96 L286.71,230.84 L287.03,230.72 L287.36,230.60 L287.68,230.48 L288.01,230.35 L288.33,230.23 L288.65,230.11 L288.97,229.99 L289.29,229.87 L289.61,229.75 L289.93,229.63 L289.98,229.50 L289.68,229.38 L289.38,229.26 L289.08,229.14 L289.14,229.02 L289.45,228.90 L289.75,228.78 L290.05,228.66 L290.35,228.54 L290.64,228.41 L290.93,228.29 L291.22,228.17 L291.51,228.05 L291.79,227.93 L292.07,227.81 L292.35,227.69 L292.62,227.56 L292.87,227.44 L292.52,227.32 L292.17,227.20 L291.82,227.08 L291.58,226.96 L291.83,226.84 L292.07,226.72 L292.32,226.60 L292.55,226.47 L292.79,226.35 L293.01,226.23 L293.24,226.11 L293.46,225.99 L293.67,225.87 L293.88,225.75 L294.08,225.62 L294.28,225.50 L294.48,225.38 L294.28,225.26 L293.86,225.14 L293.42,225.02 L292.98,224.90 L293.03,224.78 L293.20,224.66 L293.36,224.53 L293.51,224.41 L293.66,224.29 L293.81,224.17 L293.95,224.05 L294.08,223.93 L294.21,223.81 L294.34,223.69 L294.45,223.56 L294.57,223.44 L294.68,223.32 L294.64,223.20 L294.13,223.08 L293.61,222.96 L293.08,222.84 L292.80,222.72 L292.88,222.59 L292.95,222.47 L293.02,222.35 L293.08,222.23 L293.14,222.11 L293.20,221.99 L293.25,221.87 L293.29,221.75 L293.33,221.62 L293.37,221.50 L293.40,221.38 L293.43,221.26 L293.45,221.14 L292.96,221.02 L292.37,220.90 L291.76,220.78 L291.16,220.65 L291.16,220.53 L291.16,220.41 L291.16,220.29 L291.15,220.17 L291.14,220.05 L291.13,219.93 L291.11,219.81 L291.09,219.68 L291.07,219.56 L291.04,219.44 L291.01,219.32 L290.98,219.20 L290.95,219.08 L290.65,218.96 L290.00,218.84 L289.35,218.71 L288.69,218.59 L288.40,218.47 L288.35,218.35 L288.31,218.23 L288.26,218.11 L288.21,217.99 L288.16,217.87 L288.10,217.74 L288.05,217.62 L288.00,217.50 L287.94,217.38 L287.89,217.26 L287.83,217.14 L287.77,217.02 L287.70,216.90 L287.03,216.77 L286.36,216.65 L285.69,216.53 L285.15,216.41 L285.09,216.29 L285.04,216.17 L284.99,216.05 L284.93,215.93 L284.88,215.80 L284.83,215.68 L284.79,215.56 L284.74,215.44 L284.69,215.32 L284.65,215.20 L284.61,215.08 L284.57,214.96 L284.53,214.83 L284.11,214.71 L283.47,214.59 L282.82,214.47 L282.18,214.35 L282.04,214.23 L282.01,214.11 L282.00,213.99 L281.98,213.86 L281.97,213.74 L281.96,213.62 L281.96,213.50 L281.95,213.38 L281.96,213.26 L281.96,213.14 L281.97,213.02 L281.98,212.89 L282.00,212.77 L281.88,212.65 L281.30,212.53 L280.71,212.41 L280.13,212.29 L279.80,212.17 L279.85,212.05 L279.89,211.92 L279.95,211.80 L280.00,211.68 L280.07,211.56 L280.13,211.44 L280.20,211.32 L280.28,211.20 L280.36,211.08 L280.45,210.95 L280.54,210.83 L280.63,210.71 L280.74,210.59 L280.33,210.47 L279.83,210.35 L279.33,210.23 L278.84,210.11 L278.97,209.98 L279.10,209.86 L279.24,209.74 L279.38,209.62 L279.53,209.50 L279.68,209.38 L279.84,209.26 L280.00,209.14 L280.17,209.01 L280.34,208.89 L280.52,208.77 L280.70,208.65 L280.89,208.53 L280.82,208.41 L280.40,208.29 L279.99,208.17 L279.59,208.04 L279.55,207.92 L279.77,207.80 L279.99,207.68 L280.22,207.56 L280.45,207.44 L280.68,207.32 L280.92,207.20 L281.16,207.07 L281.41,206.95 L281.66,206.83 L281.92,206.71 L282.18,206.59 L282.44,206.47 L282.69,206.35 L282.35,206.23 L282.01,206.10 L281.68,205.98 L281.47,205.86 L281.75,205.74 L282.04,205.62 L282.33,205.50 L282.62,205.38 L282.92,205.25 L283.22,205.13 L283.52,205.01 L283.82,204.89 L284.13,204.77 L284.44,204.65 L284.75,204.53 L285.06,204.41 L285.38,204.29 L285.31,204.16 L285.01,204.04 L284.72,203.92 L284.43,203.80 L284.62,203.68 L284.95,203.56 L285.27,203.44 L285.60,203.31 L285.92,203.19 L286.25,203.07 L286.57,202.95 L286.90,202.83 L287.22,202.71 L287.55,202.59 L287.88,202.47 L288.20,202.35 L288.53,202.22 L288.71,202.10 L288.42,201.98 L288.13,201.86 L287.84,201.74 L287.79,201.62 L288.11,201.50 L288.43,201.38 L288.74,201.25 L289.06,201.13 L289.37,201.01 L289.68,200.89 L289.99,200.77 L290.30,200.65 L290.60,200.53 L290.90,200.41 L291.20,200.28 L291.50,200.16 L291.79,200.04 L291.57,199.92 L291.25,199.80 L290.92,199.68 L290.58,199.56 L290.86,199.44 L291.14,199.31 L291.41,199.19 L291.67,199.07 L291.94,198.95 L292.20,198.83 L292.45,198.71 L292.70,198.59 L292.95,198.47 L293.19,198.34 L293.43,198.22 L293.66,198.10 L293.89,197.98 L293.86,197.86 L293.46,197.74 L293.07,197.62 L292.67,197.50 L292.63,197.37 L292.83,197.25 L293.03,197.13 L293.22,197.01 L293.40,196.89 L293.59,196.77 L293.76,196.65 L293.94,196.53 L294.10,196.40 L294.27,196.28 L294.42,196.16 L294.58,196.04 L294.72,195.92 L294.85,195.80 L294.37,195.68 L293.89,195.56 L293.40,195.43 L293.03,195.31 L293.15,195.19 L293.26,195.07 L293.36,194.95 L293.46,194.83 L293.56,194.71 L293.65,194.59 L293.74,194.46 L293.82,194.34 L293.89,194.22 L293.96,194.10 L294.03,193.98 L294.09,193.86 L294.15,193.74 L293.81,193.62 L293.25,193.49 L292.68,193.37 L292.10,193.25 L292.01,193.13 L292.04,193.01 L292.07,192.89 L292.09,192.77 L292.11,192.65 L292.12,192.52 L292.13,192.40 L292.13,192.28 L292.13,192.16 L292.13,192.04 L292.13,191.92 L292.12,191.80 L292.11,191.68 L291.95,191.55 L291.32,191.43 L290.68,191.31 L290.04,191.19 L289.65,191.07 L289.62,190.95 L289.59,190.83 L289.55,190.71 L289.51,190.58 L289.48,190.46 L289.43,190.34 L289.39,190.22 L289.35,190.10 L289.30,189.98 L289.25,189.86 L289.20,189.74 L289.15,189.61 L289.10,189.49 L288.54,189.37 L287.87,189.25 L287.20,189.13 L286.53,189.01 L286.48,188.89 L286.42,188.77 L286.36,188.64 L286.31,188.52 L286.25,188.40 L286.20,188.28 L286.14,188.16 L286.09,188.04 L286.03,187.92 L285.98,187.80 L285.93,187.67 L285.88,187.55 L285.82,187.43 L285.51,187.31 L284.85,187.19 L284.19,187.07 L283.54,186.95 L283.25,186.83 L283.21,186.70 L283.17,186.58 L283.14,186.46 L283.10,186.34 L283.07,186.22 L283.04,186.10 L283.02,185.98 L282.99,185.86 L282.98,185.73 L282.96,185.61 L282.95,185.49 L282.94,185.37 L282.91,185.25 L282.30,185.13 L281.68,185.01 L281.07,184.88 L280.59,184.76 L280.60,184.64 L280.62,184.52 L280.64,184.40 L280.66,184.28 L280.69,184.16 L280.72,184.04 L280.76,183.92 L280.80,183.79 L280.85,183.67 L280.90,183.55 L280.95,183.43 L281.01,183.31 L281.08,183.19 L280.76,183.07 L280.22,182.94 L279.69,182.82 L279.16,182.70 L279.12,182.58 L279.22,182.46 L279.32,182.34 L279.42,182.22 L279.53,182.10 L279.65,181.98 L279.77,181.85 L279.89,181.73 L280.02,181.61 L280.16,181.49 L280.30,181.37 L280.44,181.25 L280.59,181.13 L280.61,181.00 L280.15,180.88 L279.71,180.76 L279.26,180.64 L279.07,180.52 L279.25,180.40 L279.44,180.28 L279.63,180.16 L279.82,180.04 L280.02,179.91 L280.23,179.79 L280.44,179.67 L280.65,179.55 L280.87,179.43 L281.10,179.31 L281.33,179.19 L281.56,179.06 L281.80,178.94 L281.53,178.82 L281.16,178.70 L280.80,178.58 L280.44,178.46 L280.70,178.34 L280.96,178.22 L281.23,178.10 L281.49,177.97 L281.77,177.85 L282.04,177.73 L282.32,177.61 L282.61,177.49 L282.89,177.37 L283.18,177.25 L283.48,177.12 L283.77,177.00 L284.07,176.88 L284.11,176.76 L283.80,176.64 L283.49,176.52 L283.18,176.40 L283.25,176.28 L283.56,176.16 L283.87,176.03 L284.19,175.91 L284.51,175.79 L284.83,175.67 L285.15,175.55 L285.47,175.43 L285.79,175.31 L286.11,175.19 L286.44,175.06 L286.76,174.94 L287.09,174.82 L287.40,174.70 L287.11,174.58 L286.82,174.46 L286.53,174.34 L286.37,174.22 L286.69,174.09 L287.02,173.97 L287.34,173.85 L287.67,173.73 L287.99,173.61 L288.31,173.49 L288.63,173.37 L288.95,173.25 L289.27,173.12 L289.59,173.00 L289.90,172.88 L290.22,172.76 L290.53,172.64 L290.45,172.52 L290.15,172.40 L289.84,172.28 L289.53,172.15 L289.70,172.03 L290.00,171.91 L290.30,171.79 L290.59,171.67 L290.88,171.55 L291.16,171.43 L291.44,171.31 L291.72,171.18 L292.00,171.06 L292.27,170.94 L292.54,170.82 L292.80,170.70 L293.06,170.58 L293.18,170.46 L292.82,170.34 L292.46,170.21 L292.09,170.09 L291.96,169.97 L292.19,169.85 L292.43,169.73 L292.65,169.61 L292.88,169.49 L293.09,169.37 L293.31,169.24 L293.52,169.12 L293.72,169.00 L293.92,168.88 L294.11,168.76 L294.30,168.64 L294.49,168.52 L294.67,168.40 L294.33,168.27 L293.89,168.15 L293.44,168.03 L292.98,167.91 L293.14,167.79 L293.29,167.67 L293.43,167.55 L293.57,167.43 L293.70,167.30 L293.83,167.18 L293.95,167.06 L294.07,166.94 L294.19,166.82 L294.29,166.70 L294.40,166.58 L294.49,166.46 L294.59,166.33 L294.41,166.21 L293.88,166.09 L293.34,165.97 L292.80,165.85 L292.63,165.73 L292.69,165.61 L292.75,165.49 L292.80,165.36 L292.85,165.24 L292.90,165.12 L292.94,165.00 L292.97,164.88 L293.00,164.76 L293.03,164.64 L293.05,164.52 L293.07,164.39 L293.09,164.27 L293.08,164.15 L292.47,164.03 L291.86,163.91 L291.25,163.79 L290.75,163.67 L290.75,163.55 L290.73,163.42 L290.72,163.30 L290.70,163.18 L290.68,163.06 L290.66,162.94 L290.63,162.82 L290.60,162.70 L290.57,162.58 L290.54,162.45 L290.50,162.33 L290.46,162.21 L290.42,162.09 L289.99,161.97 L289.34,161.85 L288.68,161.73 L288.02,161.61 L287.84,161.48 L287.79,161.36 L287.74,161.24 L287.69,161.12 L287.64,161.00 L287.58,160.88 L287.53,160.76 L287.47,160.63 L287.41,160.51 L287.36,160.39 L287.30,160.27 L287.25,160.15 L287.19,160.03 L287.00,159.91 L286.33,159.79 L285.66,159.67 L284.99,159.54 L284.57,159.42 L284.52,159.30 L284.47,159.18 L284.42,159.06 L284.37,158.94 L284.32,158.82 L284.28,158.69 L284.24,158.57 L284.20,158.45 L284.16,158.33 L284.12,158.21 L284.09,158.09 L284.05,157.97 L284.03,157.85 L283.49,157.73 L282.85,157.60 L282.22,157.48 L281.59,157.36 L281.57,157.24 L281.56,157.12 L281.55,157.00 L281.55,156.88 L281.55,156.75 L281.55,156.63 L281.56,156.51 L281.57,156.39 L281.58,156.27 L281.60,156.15 L281.62,156.03 L281.65,155.91 L281.68,155.79 L281.45,155.66 L280.88,155.54 L280.31,155.42 L279.75,155.30 L279.55,155.18 L279.61,155.06 L279.67,154.94 L279.74,154.81 L279.81,154.69 L279.89,154.57 L279.97,154.45 L280.06,154.33 L280.15,154.21 L280.25,154.09 L280.35,153.97 L280.46,153.85 L280.57,153.72 L280.67,153.60 L280.18,153.48 L279.70,153.36 L279.21,153.24 L278.86,153.12 L279.00,153.00 L279.15,152.88 L279.31,152.75 L279.47,152.63 L279.63,152.51 L279.80,152.39 L279.97,152.27 L280.15,152.15 L280.33,152.03 L280.52,151.91 L280.72,151.78 L280.92,151.66 L281.12,151.54 L280.94,151.42 L280.54,151.30 L280.14,151.18 L279.75,151.06 L279.86,150.94 L280.09,150.81 L280.32,150.69 L280.56,150.57 L280.81,150.45 L281.06,150.33 L281.31,150.21 L281.57,150.09 L281.83,149.97 L282.09,149.84 L282.36,149.72 L282.63,149.60 L282.91,149.48 L283.04,149.36 L282.71,149.24 L282.38,149.12 L282.06,149.00 L281.98,148.87 L282.28,148.75 L282.57,148.63 L282.87,148.51 L283.18,148.39 L283.48,148.27 L283.79,148.15 L284.10,148.03 L284.41,147.90 L284.72,147.78 L285.04,147.66 L285.35,147.54 L285.67,147.42 L285.99,147.30 L285.80,147.18 L285.51,147.06 L285.22,146.93 L284.93,146.81 L285.26,146.69 L285.58,146.57 L285.91,146.45 L286.23,146.33 L286.56,146.21 L286.88,146.09 L287.21,145.96 L287.54,145.84 L287.86,145.72 L288.19,145.60 L288.51,145.48 L288.83,145.36 L289.16,145.24 L289.21,145.12 L288.92,144.99 L288.63,144.87 L288.33,144.75 L288.40,144.63 L288.71,144.51 L289.03,144.39 L289.34,144.27 L289.65,144.15 L289.95,144.02 L290.25,143.90 L290.56,143.78 L290.85,143.66 L291.15,143.54 L291.44,143.42 L291.73,143.30 L292.02,143.18 L292.29,143.05 L291.95,142.93 L291.62,142.81 L291.28,142.69 L291.05,142.57 L291.32,142.45 L291.58,142.33 L291.84,142.21 L292.10,142.08 L292.35,141.96 L292.59,141.84 L292.83,141.72 L293.07,141.60 L293.31,141.48 L293.53,141.36 L293.76,141.24 L293.98,141.11 L294.19,140.99 L294.02,140.87 L293.61,140.75 L293.20,140.63 L292.78,140.51 L292.85,140.39 L293.04,140.27 L293.22,140.14 L293.39,140.02 L293.57,139.90 L293.73,139.78 L293.89,139.66 L294.05,139.54 L294.20,139.42 L294.35,139.30 L294.49,139.17 L294.62,139.05 L294.75,138.93 L294.74,138.81 L294.24,138.69 L293.75,138.57 L293.24,138.45 L292.98,138.33 L293.08,138.20 L293.17,138.08 L293.26,137.96 L293.35,137.84 L293.43,137.72 L293.50,137.60 L293.57,137.48 L293.64,137.36 L293.70,137.23 L293.75,137.11 L293.80,136.99 L293.85,136.87 L293.89,136.75 L293.42,136.63 L292.84,136.51 L292.26,136.38 L291.67,136.26 L291.69,136.14 L291.70,136.02 L291.72,135.90 L291.72,135.78 L291.73,135.66 L291.73,135.54 L291.73,135.42 L291.72,135.29 L291.71,135.17 L291.70,135.05 L291.68,134.93 L291.66,134.81 L291.64,134.69 L291.35,134.57 L290.71,134.44 L290.07,134.32 L289.42,134.20 L289.14,134.08 L289.10,133.96 L289.06,133.84 L289.02,133.72 L288.98,133.60 L288.93,133.48 L288.88,133.35 L288.84,133.23 L288.79,133.11 L288.73,132.99 L288.68,132.87 L288.63,132.75 L288.57,132.63 L288.50,132.50 L287.83,132.38 L287.16,132.26 L286.50,132.14 L285.95,132.02 L285.89,131.90 L285.84,131.78 L285.78,131.66 L285.73,131.54 L285.67,131.41 L285.62,131.29 L285.56,131.17 L285.51,131.05 L285.46,130.93 L285.41,130.81 L285.36,130.69 L285.31,130.56 L285.27,130.44 L284.84,130.32 L284.19,130.20 L283.53,130.08 L282.88,129.96 L282.72,129.84 L282.69,129.72 L282.66,129.60 L282.63,129.47 L282.61,129.35 L282.59,129.23 L282.57,129.11 L282.55,128.99 L282.54,128.87 L282.53,128.75 L282.52,128.62 L282.52,128.50 L282.52,128.38 L282.39,128.26 L281.78,128.14 L281.18,128.02 L280.58,127.90 L280.24,127.78 L280.26,127.66 L280.29,127.53 L280.32,127.41 L280.36,127.29 L280.40,127.17 L280.45,127.05 L280.50,126.93 L280.56,126.81 L280.62,126.69 L280.69,126.56 L280.76,126.44 L280.83,126.32 L280.91,126.20 L280.49,126.08 L279.97,125.96 L279.45,125.84 L278.93,125.72 L279.04,125.59 L279.15,125.47 L279.26,125.35 L279.39,125.23 L279.51,125.11 L279.64,124.99 L279.78,124.87 L279.92,124.75 L280.07,124.62 L280.22,124.50 L280.37,124.38 L280.53,124.26 L280.70,124.14 L280.61,124.02 L280.17,123.90 L279.74,123.78 L279.32,123.65 L279.26,123.53 L279.46,123.41 L279.66,123.29 L279.87,123.17 L280.08,123.05 L280.29,122.93 L280.51,122.81 L280.74,122.68 L280.97,122.56 L281.20,122.44 L281.44,122.32 L281.68,122.20 L281.93,122.08 L282.16,121.96 L281.80,121.84 L281.45,121.71 L281.10,121.59 L280.87,121.47 L281.14,121.35 L281.42,121.23 L281.70,121.11 L281.98,120.99 L282.26,120.87 L282.55,120.74 L282.84,120.62 L283.13,120.50 L283.43,120.38 L283.72,120.26 L284.03,120.14 L284.33,120.02 L284.64,119.90 L284.56,119.77 L284.26,119.65 L283.95,119.53 L283.66,119.41 L283.85,119.29 L284.17,119.17 L284.49,119.05 L284.81,118.93 L285.13,118.80 L285.45,118.68 L285.77,118.56 L286.10,118.44 L286.42,118.32 L286.75,118.20 L287.07,118.08 L287.40,117.96 L287.73,117.83 L287.91,117.71 L287.62,117.59 L287.34,117.47 L287.05,117.35 L287.00,117.23 L287.33,117.11 L287.65,116.99 L287.97,116.86 L288.29,116.74 L288.61,116.62 L288.93,116.50 L289.25,116.38 L289.56,116.26 L289.87,116.14 L290.19,116.02 L290.49,115.89 L290.80,115.77 L291.11,115.65 L290.90,115.53 L290.59,115.41 L290.27,115.29 L289.95,115.17 L290.24,115.05 L290.53,114.92 L290.81,114.80 L291.09,114.68 L291.37,114.56 L291.65,114.44 L291.92,114.32 L292.19,114.20 L292.45,114.08 L292.71,113.95 L292.97,113.83 L293.22,113.71 L293.47,113.59 L293.45,113.47 L293.07,113.35 L292.70,113.23 L292.31,113.11 L292.29,112.98 L292.52,112.86 L292.73,112.74 L292.94,112.62 L293.15,112.50 L293.36,112.38 L293.55,112.26 L293.75,112.14 L293.93,112.01 L294.12,111.89 L294.30,111.77 L294.47,111.65 L294.64,111.53 L294.78,111.41 L294.33,111.29 L293.87,111.17 L293.40,111.04 L293.05,110.92 L293.19,110.80 L293.32,110.68 L293.45,110.56 L293.57,110.44 L293.69,110.32 L293.80,110.20 L293.91,110.07 L294.01,109.95 L294.11,109.83 L294.20,109.71 L294.29,109.59 L294.37,109.47 L294.44,109.35 L294.13,109.23 L293.58,109.10 L293.03,108.98 L292.48,108.86 L292.41,108.74 L292.46,108.62 L292.50,108.50 L292.54,108.38 L292.57,108.26 L292.60,108.13 L292.63,108.01 L292.65,107.89 L292.67,107.77 L292.68,107.65 L292.69,107.53 L292.70,107.41 L292.70,107.29 L292.56,107.16 L291.94,107.04 L291.32,106.92 L290.69,106.80" fill="none" stroke="#d4622a" stroke-width="0.9"  stroke-linejoin="miter"/>
<path d="M428.60,252.30 L428.81,252.18 L429.01,252.06 L429.19,251.94 L429.36,251.81 L429.50,251.69 L429.64,251.57 L429.75,251.45 L429.85,251.33 L429.93,251.21 L429.99,251.09 L430.03,250.97 L430.05,250.84 L430.05,250.72 L429.64,250.60 L428.72,250.48 L427.79,250.36 L426.88,250.24 L426.49,250.12 L426.42,250.00 L426.34,249.88 L426.24,249.75 L426.12,249.63 L425.99,249.51 L425.83,249.39 L425.66,249.27 L425.47,249.15 L425.26,249.03 L425.03,248.91 L424.78,248.78 L424.52,248.66 L424.23,248.54 L423.31,248.42 L422.42,248.30 L421.55,248.18 L420.81,248.06 L420.53,247.94 L420.22,247.81 L419.91,247.69 L419.58,247.57 L419.23,247.45 L418.88,247.33 L418.51,247.21 L418.13,247.09 L417.74,246.97 L417.33,246.84 L416.92,246.72 L416.49,246.60 L416.06,246.48 L415.41,246.36 L414.65,246.24 L413.92,246.12 L413.20,246.00 L412.72,245.87 L412.29,245.75 L411.85,245.63 L411.40,245.51 L410.95,245.39 L410.49,245.27 L410.03,245.15 L409.56,245.03 L409.08,244.90 L408.60,244.78 L408.12,244.66 L407.63,244.54 L407.15,244.42 L406.62,244.30 L405.98,244.18 L405.35,244.06 L404.73,243.93 L404.16,243.81 L403.68,243.69 L403.19,243.57 L402.70,243.45 L402.21,243.33 L401.72,243.21 L401.23,243.09 L400.74,242.96 L400.25,242.84 L399.76,242.72 L399.26,242.60 L398.78,242.48 L398.29,242.36 L397.80,242.24 L397.21,242.12 L396.59,241.99 L395.96,241.87 L395.33,241.75 L394.83,241.63 L394.34,241.51 L393.86,241.39 L393.37,241.27 L392.89,241.15 L392.41,241.02 L391.94,240.90 L391.47,240.78 L391.01,240.66 L390.56,240.54 L390.10,240.42 L389.66,240.30 L389.22,240.18 L388.68,240.05 L387.97,239.93 L387.24,239.81 L386.49,239.69 L385.92,239.57 L385.48,239.45 L385.05,239.33 L384.62,239.21 L384.21,239.08 L383.81,238.96 L383.42,238.84 L383.04,238.72 L382.68,238.60 L382.32,238.48 L381.98,238.36 L381.66,238.24 L381.34,238.11 L381.03,237.99 L380.19,237.87 L379.32,237.75 L378.43,237.63 L377.65,237.51 L377.36,237.39 L377.08,237.27 L376.82,237.14 L376.58,237.02 L376.35,236.90 L376.14,236.78 L375.95,236.66 L375.78,236.54 L375.63,236.42 L375.49,236.30 L375.38,236.17 L375.28,236.05 L375.20,235.93 L374.60,235.81 L373.68,235.69 L372.75,235.57 L371.82,235.45 L371.60,235.33 L371.58,235.20 L371.58,235.08 L371.60,234.96 L371.64,234.84 L371.70,234.72 L371.78,234.60 L371.88,234.48 L371.99,234.36 L372.12,234.23 L372.27,234.11 L372.43,233.99 L372.61,233.87 L372.57,233.75 L371.79,233.63 L371.02,233.51 L370.27,233.39 L369.93,233.26 L370.20,233.14 L370.49,233.02 L370.79,232.90 L371.11,232.78 L371.43,232.66 L371.77,232.54 L372.12,232.42 L372.49,232.29 L372.86,232.17 L373.24,232.05 L373.63,231.93 L374.03,231.81 L374.43,231.69 L374.12,231.57 L373.70,231.45 L373.30,231.32 L372.95,231.20 L373.44,231.08 L373.94,230.96 L374.44,230.84 L374.95,230.72 L375.46,230.60 L375.97,230.48 L376.49,230.35 L377.00,230.23 L377.52,230.11 L378.04,229.99 L378.57,229.87 L379.09,229.75 L379.61,229.63 L379.88,229.50 L379.84,229.38 L379.84,229.26 L379.87,229.14 L380.25,229.02 L380.83,228.90 L381.41,228.78 L381.99,228.66 L382.57,228.54 L383.14,228.41 L383.71,228.29 L384.28,228.17 L384.84,228.05 L385.40,227.93 L385.96,227.81 L386.51,227.69 L387.06,227.56 L387.60,227.44 L387.86,227.32 L388.14,227.20 L388.44,227.08 L388.81,226.96 L389.39,226.84 L389.96,226.72 L390.53,226.60 L391.10,226.47 L391.66,226.35 L392.22,226.23 L392.77,226.11 L393.33,225.99 L393.88,225.87 L394.42,225.75 L394.97,225.62 L395.51,225.50 L396.06,225.38 L396.51,225.26 L396.92,225.14 L397.33,225.02 L397.76,224.90 L398.28,224.78 L398.83,224.66 L399.37,224.53 L399.92,224.41 L400.46,224.29 L401.01,224.17 L401.55,224.05 L402.10,223.93 L402.64,223.81 L403.19,223.69 L403.74,223.56 L404.29,223.44 L404.84,223.32 L405.36,223.20 L405.77,223.08 L406.18,222.96 L406.57,222.84 L407.02,222.72 L407.56,222.59 L408.11,222.47 L408.65,222.35 L409.20,222.23 L409.76,222.11 L410.31,221.99 L410.87,221.87 L411.44,221.75 L412.01,221.62 L412.58,221.50 L413.15,221.38 L413.73,221.26 L414.31,221.14 L414.65,221.02 L414.90,220.90 L415.14,220.78 L415.34,220.65 L415.89,220.53 L416.44,220.41 L417.00,220.29 L417.55,220.17 L418.11,220.05 L418.67,219.93 L419.24,219.81 L419.80,219.68 L420.37,219.56 L420.95,219.44 L421.52,219.32 L422.09,219.20 L422.67,219.08 L422.99,218.96 L422.95,218.84 L422.88,218.71 L422.76,218.59 L423.01,218.47 L423.52,218.35 L424.03,218.23 L424.53,218.11 L425.03,217.99 L425.53,217.87 L426.03,217.74 L426.52,217.62 L427.01,217.50 L427.49,217.38 L427.97,217.26 L428.44,217.14 L428.91,217.02 L429.34,216.90 L428.90,216.77 L428.43,216.65 L427.92,216.53 L427.57,216.41 L427.94,216.29 L428.30,216.17 L428.65,216.05 L428.99,215.93 L429.32,215.80 L429.64,215.68 L429.95,215.56 L430.24,215.44 L430.52,215.32 L430.78,215.20 L431.03,215.08 L431.26,214.96 L431.48,214.83 L431.06,214.71 L430.25,214.59 L429.43,214.47 L428.61,214.35 L428.55,214.23 L428.68,214.11 L428.79,213.99 L428.88,213.86 L428.96,213.74 L429.02,213.62 L429.06,213.50 L429.08,213.38 L429.08,213.26 L429.06,213.14 L429.02,213.02 L428.97,212.89 L428.89,212.77 L428.60,212.65 L427.66,212.53 L426.73,212.41 L425.81,212.29 L425.22,212.17 L425.09,212.05 L424.94,211.92 L424.77,211.80 L424.59,211.68 L424.39,211.56 L424.17,211.44 L423.93,211.32 L423.68,211.20 L423.41,211.08 L423.12,210.95 L422.82,210.83 L422.50,210.71 L422.17,210.59 L421.38,210.47 L420.52,210.35 L419.68,210.23 L418.87,210.11 L418.53,209.98 L418.19,209.86 L417.83,209.74 L417.46,209.62 L417.08,209.50 L416.68,209.38 L416.28,209.26 L415.87,209.14 L415.44,209.01 L415.01,208.89 L414.57,208.77 L414.12,208.65 L413.66,208.53 L413.09,208.41 L412.37,208.29 L411.66,208.17 L410.98,208.04 L410.44,207.92 L409.99,207.80 L409.53,207.68 L409.07,207.56 L408.60,207.44 L408.13,207.32 L407.65,207.20 L407.17,207.07 L406.69,206.95 L406.20,206.83 L405.71,206.71 L405.22,206.59 L404.73,206.47 L404.23,206.35 L403.61,206.23 L402.99,206.10 L402.38,205.98 L401.79,205.86 L401.30,205.74 L400.81,205.62 L400.32,205.50 L399.83,205.38 L399.33,205.25 L398.84,205.13 L398.35,205.01 L397.86,204.89 L397.37,204.77 L396.89,204.65 L396.40,204.53 L395.92,204.41 L395.44,204.29 L394.87,204.16 L394.24,204.04 L393.59,203.92 L392.93,203.80 L392.41,203.68 L391.93,203.56 L391.45,203.44 L390.97,203.31 L390.50,203.19 L390.04,203.07 L389.58,202.95 L389.13,202.83 L388.68,202.71 L388.25,202.59 L387.82,202.47 L387.39,202.35 L386.98,202.22 L386.50,202.10 L385.76,201.98 L384.99,201.86 L384.20,201.74 L383.55,201.62 L383.14,201.50 L382.74,201.38 L382.35,201.25 L381.98,201.13 L381.61,201.01 L381.26,200.89 L380.92,200.77 L380.60,200.65 L380.29,200.53 L379.99,200.41 L379.71,200.28 L379.45,200.16 L379.20,200.04 L378.44,199.92 L377.55,199.80 L376.63,199.68 L375.70,199.56 L375.47,199.44 L375.25,199.31 L375.06,199.19 L374.88,199.07 L374.72,198.95 L374.58,198.83 L374.45,198.71 L374.35,198.59 L374.26,198.47 L374.20,198.34 L374.15,198.22 L374.12,198.10 L374.11,197.98 L373.72,197.86 L372.82,197.74 L371.91,197.62 L371.01,197.50 L370.67,197.37 L370.73,197.25 L370.81,197.13 L370.91,197.01 L371.03,196.89 L371.17,196.77 L371.32,196.65 L371.49,196.53 L371.67,196.40 L371.88,196.28 L372.09,196.16 L372.32,196.04 L372.57,195.92 L372.80,195.80 L372.09,195.68 L371.40,195.56 L370.73,195.43 L370.28,195.31 L370.62,195.19 L370.98,195.07 L371.34,194.95 L371.72,194.83 L372.11,194.71 L372.51,194.59 L372.92,194.46 L373.33,194.34 L373.76,194.22 L374.19,194.10 L374.62,193.98 L375.06,193.86 L375.51,193.74 L375.46,193.62 L375.14,193.49 L374.85,193.37 L374.61,193.25 L374.99,193.13 L375.52,193.01 L376.06,192.89 L376.59,192.77 L377.13,192.65 L377.67,192.52 L378.21,192.40 L378.76,192.28 L379.30,192.16 L379.84,192.04 L380.38,191.92 L380.91,191.80 L381.45,191.68 L381.87,191.55 L381.93,191.43 L382.01,191.31 L382.13,191.19 L382.45,191.07 L383.04,190.95 L383.63,190.83 L384.21,190.71 L384.79,190.58 L385.36,190.46 L385.93,190.34 L386.50,190.22 L387.07,190.10 L387.63,189.98 L388.18,189.86 L388.74,189.74 L389.29,189.61 L389.84,189.49 L390.19,189.37 L390.51,189.25 L390.86,189.13 L391.22,189.01 L391.79,188.89 L392.35,188.77 L392.92,188.64 L393.48,188.52 L394.03,188.40 L394.59,188.28 L395.14,188.16 L395.69,188.04 L396.23,187.92 L396.78,187.80 L397.32,187.67 L397.86,187.55 L398.41,187.43 L398.90,187.31 L399.32,187.19 L399.74,187.07 L400.17,186.95 L400.66,186.83 L401.21,186.70 L401.75,186.58 L402.30,186.46 L402.84,186.34 L403.38,186.22 L403.93,186.10 L404.48,185.98 L405.03,185.86 L405.58,185.73 L406.13,185.61 L406.68,185.49 L407.24,185.37 L407.80,185.25 L408.19,185.13 L408.57,185.01 L408.93,184.88 L409.32,184.76 L409.87,184.64 L410.42,184.52 L410.97,184.40 L411.52,184.28 L412.08,184.16 L412.64,184.04 L413.21,183.92 L413.77,183.79 L414.35,183.67 L414.92,183.55 L415.50,183.43 L416.09,183.31 L416.67,183.19 L417.03,183.07 L417.22,182.94 L417.39,182.82 L417.52,182.70 L417.98,182.58 L418.53,182.46 L419.07,182.34 L419.62,182.22 L420.18,182.10 L420.73,181.98 L421.28,181.85 L421.84,181.73 L422.40,181.61 L422.96,181.49 L423.52,181.37 L424.08,181.25 L424.63,181.13 L425.04,181.00 L424.89,180.88 L424.72,180.76 L424.50,180.64 L424.54,180.52 L425.02,180.40 L425.50,180.28 L425.97,180.16 L426.44,180.04 L426.91,179.91 L427.36,179.79 L427.82,179.67 L428.26,179.55 L428.70,179.43 L429.13,179.31 L429.56,179.19 L429.97,179.06 L430.37,178.94 L429.99,178.82 L429.41,178.70 L428.80,178.58 L428.17,178.46 L428.49,178.34 L428.79,178.22 L429.09,178.10 L429.37,177.97 L429.63,177.85 L429.89,177.73 L430.12,177.61 L430.35,177.49 L430.56,177.37 L430.75,177.25 L430.92,177.12 L431.08,177.00 L431.21,176.88 L430.92,176.76 L430.05,176.64 L429.18,176.52 L428.31,176.40 L428.00,176.28 L428.05,176.16 L428.09,176.03 L428.11,175.91 L428.12,175.79 L428.10,175.67 L428.06,175.55 L428.01,175.43 L427.94,175.31 L427.84,175.19 L427.73,175.06 L427.60,174.94 L427.45,174.82 L427.26,174.70 L426.32,174.58 L425.39,174.46 L424.48,174.34 L423.72,174.22 L423.53,174.09 L423.32,173.97 L423.09,173.85 L422.85,173.73 L422.59,173.61 L422.31,173.49 L422.02,173.37 L421.72,173.25 L421.40,173.12 L421.06,173.00 L420.71,172.88 L420.35,172.76 L419.97,172.64 L419.30,172.52 L418.47,172.40 L417.67,172.28 L416.89,172.15 L416.43,172.03 L416.05,171.91 L415.66,171.79 L415.25,171.67 L414.84,171.55 L414.42,171.43 L413.99,171.31 L413.55,171.18 L413.10,171.06 L412.65,170.94 L412.18,170.82 L411.72,170.70 L411.25,170.58 L410.72,170.46 L410.03,170.34 L409.36,170.21 L408.70,170.09 L408.13,169.97 L407.66,169.85 L407.19,169.73 L406.71,169.61 L406.24,169.49 L405.75,169.37 L405.27,169.24 L404.78,169.12 L404.29,169.00 L403.80,168.88 L403.31,168.76 L402.82,168.64 L402.32,168.52 L401.83,168.40 L401.24,168.27 L400.63,168.15 L400.02,168.03 L399.40,167.91 L398.91,167.79 L398.42,167.67 L397.92,167.55 L397.43,167.43 L396.94,167.30 L396.45,167.18 L395.96,167.06 L395.48,166.94 L395.00,166.82 L394.52,166.70 L394.04,166.58 L393.57,166.46 L393.11,166.33 L392.56,166.21 L391.91,166.09 L391.23,165.97 L390.55,165.85 L389.98,165.73 L389.51,165.61 L389.04,165.49 L388.58,165.36 L388.13,165.24 L387.68,165.12 L387.24,165.00 L386.81,164.88 L386.39,164.76 L385.98,164.64 L385.58,164.52 L385.18,164.39 L384.80,164.27 L384.42,164.15 L383.64,164.03 L382.83,163.91 L382.01,163.79 L381.26,163.67 L380.88,163.55 L380.52,163.42 L380.17,163.30 L379.84,163.18 L379.52,163.06 L379.21,162.94 L378.92,162.82 L378.65,162.70 L378.39,162.58 L378.15,162.45 L377.92,162.33 L377.71,162.21 L377.52,162.09 L376.89,161.97 L375.98,161.85 L375.06,161.73 L374.12,161.61 L373.79,161.48 L373.65,161.36 L373.52,161.24 L373.41,161.12 L373.32,161.00 L373.25,160.88 L373.20,160.76 L373.16,160.63 L373.15,160.51 L373.16,160.39 L373.18,160.27 L373.22,160.15 L373.28,160.03 L373.14,159.91 L372.27,159.79 L371.40,159.67 L370.54,159.54 L370.07,159.42 L370.22,159.30 L370.37,159.18 L370.55,159.06 L370.75,158.94 L370.96,158.82 L371.18,158.69 L371.42,158.57 L371.68,158.45 L371.95,158.33 L372.23,158.21 L372.53,158.09 L372.84,157.97 L373.15,157.85 L372.69,157.73 L372.09,157.60 L371.52,157.48 L370.97,157.36 L371.38,157.24 L371.80,157.12 L372.22,157.00 L372.65,156.88 L373.10,156.75 L373.54,156.63 L374.00,156.51 L374.46,156.39 L374.93,156.27 L375.40,156.15 L375.87,156.03 L376.35,155.91 L376.83,155.79 L377.01,155.66 L376.79,155.54 L376.62,155.42 L376.48,155.30 L376.77,155.18 L377.33,155.06 L377.89,154.94 L378.45,154.81 L379.01,154.69 L379.57,154.57 L380.12,154.45 L380.68,154.33 L381.24,154.21 L381.79,154.09 L382.34,153.97 L382.89,153.85 L383.43,153.72 L383.97,153.60 L384.10,153.48 L384.27,153.36 L384.46,153.24 L384.76,153.12 L385.34,153.00 L385.93,152.88 L386.51,152.75 L387.09,152.63 L387.66,152.51 L388.23,152.39 L388.79,152.27 L389.35,152.15 L389.91,152.03 L390.46,151.91 L391.02,151.78 L391.56,151.66 L392.11,151.54 L392.53,151.42 L392.90,151.30 L393.28,151.18 L393.67,151.06 L394.20,150.94 L394.76,150.81 L395.31,150.69 L395.86,150.57 L396.42,150.45 L396.96,150.33 L397.51,150.21 L398.06,150.09 L398.60,149.97 L399.15,149.84 L399.69,149.72 L400.23,149.60 L400.78,149.48 L401.29,149.36 L401.72,149.24 L402.14,149.12 L402.57,149.00 L403.03,148.87 L403.58,148.75 L404.12,148.63 L404.66,148.51 L405.21,148.39 L405.75,148.27 L406.30,148.15 L406.85,148.03 L407.41,147.90 L407.96,147.78 L408.52,147.66 L409.09,147.54 L409.65,147.42 L410.22,147.30 L410.62,147.18 L410.96,147.06 L411.29,146.93 L411.60,146.81 L412.14,146.69 L412.69,146.57 L413.25,146.45 L413.80,146.33 L414.36,146.21 L414.93,146.09 L415.49,145.96 L416.06,145.84 L416.64,145.72 L417.22,145.60 L417.80,145.48 L418.38,145.36 L418.97,145.24 L419.37,145.12 L419.49,144.99 L419.57,144.87 L419.62,144.75 L419.96,144.63 L420.49,144.51 L421.03,144.39 L421.57,144.27 L422.11,144.15 L422.64,144.02 L423.18,143.90 L423.72,143.78 L424.26,143.66 L424.80,143.54 L425.34,143.42 L425.87,143.30 L426.40,143.18 L426.91,143.05 L426.66,142.93 L426.37,142.81 L426.05,142.69 L425.85,142.57 L426.30,142.45 L426.74,142.33 L427.17,142.21 L427.60,142.08 L428.02,141.96 L428.43,141.84 L428.84,141.72 L429.23,141.60 L429.62,141.48 L429.99,141.36 L430.36,141.24 L430.71,141.11 L431.05,140.99 L430.76,140.87 L430.09,140.75 L429.40,140.63 L428.68,140.51 L428.74,140.39 L428.98,140.27 L429.21,140.14 L429.43,140.02 L429.62,139.90 L429.81,139.78 L429.97,139.66 L430.12,139.54 L430.26,139.42 L430.37,139.30 L430.47,139.17 L430.54,139.05 L430.60,138.93 L430.43,138.81 L429.52,138.69 L428.61,138.57 L427.70,138.45 L427.16,138.33 L427.15,138.20 L427.11,138.08 L427.06,137.96 L426.99,137.84 L426.91,137.72 L426.80,137.60 L426.67,137.48 L426.53,137.36 L426.37,137.23 L426.19,137.11 L425.99,136.99 L425.77,136.87 L425.53,136.75 L424.72,136.63 L423.81,136.51 L422.91,136.38 L422.04,136.26 L421.79,136.14 L421.52,136.02 L421.24,135.90 L420.95,135.78 L420.64,135.66 L420.31,135.54 L419.97,135.42 L419.62,135.29 L419.25,135.17 L418.88,135.05 L418.49,134.93 L418.09,134.81 L417.67,134.69 L417.09,134.57 L416.30,134.44 L415.54,134.32 L414.79,134.20 L414.25,134.08 L413.84,133.96 L413.42,133.84 L412.99,133.72 L412.55,133.60 L412.10,133.48 L411.65,133.35 L411.19,133.23 L410.73,133.11 L410.26,132.99 L409.78,132.87 L409.30,132.75 L408.82,132.63 L408.33,132.50 L407.67,132.38 L407.02,132.26 L406.39,132.14 L405.79,132.02 L405.31,131.90 L404.83,131.78 L404.35,131.66 L403.86,131.54 L403.37,131.41 L402.88,131.29 L402.39,131.17 L401.90,131.05 L401.41,130.93 L400.92,130.81 L400.42,130.69 L399.93,130.56 L399.44,130.44 L398.88,130.32 L398.26,130.20 L397.65,130.08 L397.02,129.96 L396.50,129.84 L396.01,129.72 L395.52,129.60 L395.03,129.47 L394.55,129.35 L394.06,129.23 L393.58,129.11 L393.10,128.99 L392.63,128.87 L392.16,128.75 L391.70,128.62 L391.24,128.50 L390.79,128.38 L390.30,128.26 L389.61,128.14 L388.91,128.02 L388.19,127.90 L387.56,127.78 L387.11,127.66 L386.66,127.53 L386.22,127.41 L385.79,127.29 L385.36,127.17 L384.95,127.05 L384.55,126.93 L384.16,126.81 L383.77,126.69 L383.40,126.56 L383.05,126.44 L382.70,126.32 L382.37,126.20 L381.64,126.08 L380.80,125.96 L379.94,125.84 L379.06,125.72 L378.73,125.59 L378.41,125.47 L378.11,125.35 L377.83,125.23 L377.56,125.11 L377.31,124.99 L377.07,124.87 L376.86,124.75 L376.66,124.62 L376.48,124.50 L376.31,124.38 L376.17,124.26 L376.04,124.14 L375.58,124.02 L374.67,123.90 L373.74,123.78 L372.80,123.65 L372.36,123.53 L372.29,123.41 L372.24,123.29 L372.20,123.17 L372.19,123.05 L372.19,122.93 L372.22,122.81 L372.26,122.68 L372.32,122.56 L372.40,122.44 L372.49,122.32 L372.61,122.20 L372.74,122.08 L372.86,121.96 L372.03,121.84 L371.22,121.71 L370.41,121.59 L369.82,121.47 L370.04,121.35 L370.28,121.23 L370.53,121.11 L370.80,120.99 L371.08,120.87 L371.38,120.74 L371.68,120.62 L372.01,120.50 L372.34,120.38 L372.68,120.26 L373.04,120.14 L373.40,120.02 L373.77,119.90 L373.58,119.77 L373.08,119.65 L372.61,119.53 L372.17,119.41 L372.46,119.29 L372.92,119.17 L373.40,119.05 L373.88,118.93 L374.37,118.80 L374.86,118.68 L375.35,118.56 L375.85,118.44 L376.35,118.32 L376.85,118.20 L377.36,118.08 L377.87,117.96 L378.38,117.83 L378.74,117.71 L378.63,117.59 L378.55,117.47 L378.51,117.35 L378.74,117.23 L379.32,117.11 L379.89,116.99 L380.47,116.86 L381.04,116.74 L381.61,116.62 L382.18,116.50 L382.75,116.38 L383.31,116.26 L383.87,116.14 L384.42,116.02 L384.98,115.89 L385.53,115.77 L386.08,115.65 L386.35,115.53 L386.58,115.41 L386.84,115.29 L387.12,115.17 L387.70,115.05 L388.28,114.92 L388.86,114.80 L389.43,114.68 L390.00,114.56 L390.56,114.44 L391.12,114.32 L391.68,114.20 L392.23,114.08 L392.78,113.95 L393.33,113.83 L393.88,113.71 L394.42,113.59 L394.90,113.47 L395.29,113.35 L395.69,113.23 L396.10,113.11 L396.60,112.98 L397.15,112.86 L397.70,112.74 L398.25,112.62 L398.80,112.50 L399.34,112.38 L399.89,112.26 L400.43,112.14 L400.98,112.01 L401.52,111.89 L402.07,111.77 L402.61,111.65 L403.16,111.53 L403.71,111.41 L404.13,111.29 L404.54,111.17 L404.95,111.04 L405.38,110.92 L405.93,110.80 L406.47,110.68 L407.01,110.56 L407.56,110.44 L408.11,110.32 L408.67,110.20 L409.22,110.07 L409.78,109.95 L410.34,109.83 L410.91,109.71 L411.48,109.59 L412.05,109.47 L412.63,109.35 L413.05,109.23 L413.34,109.10 L413.62,108.98 L413.88,108.86 L414.36,108.74 L414.91,108.62 L415.47,108.50 L416.02,108.38 L416.58,108.26 L417.15,108.13 L417.71,108.01 L418.28,107.89 L418.85,107.77 L419.43,107.65 L420.01,107.53 L420.59,107.41 L421.17,107.29 L421.63,107.16 L421.67,107.04 L421.66,106.92 L421.62,106.80" fill="none" stroke="#d4622a" stroke-width="0.9"  stroke-linejoin="miter"/>
<text x="56.40" y="16.20" font-size="20" text-anchor="start" fill="#303030" style="" letter-spacing="0.5">(a)</text>
<text x="56.40" y="96.50" font-size="20" text-anchor="start" fill="#303030" style="" letter-spacing="0.5">(d)</text>
<text x="190.90" y="16.20" font-size="20" text-anchor="start" fill="#303030" style="" letter-spacing="0.5">(b)</text>
<text x="190.90" y="96.50" font-size="20" text-anchor="start" fill="#303030" style="" letter-spacing="0.5">(e)</text>
<text x="325.90" y="16.20" font-size="20" text-anchor="start" fill="#303030" style="" letter-spacing="0.5">(c)</text>
<text x="325.90" y="96.50" font-size="20" text-anchor="start" fill="#303030" style="" letter-spacing="0.5">(f)</text>
<text x="56.00" y="65.70" font-size="14" text-anchor="start" fill="#303030" style="" >0</text>
<text x="52.50" y="49.18" font-size="14" text-anchor="start" fill="#303030" style="" >10</text>
<text x="52.50" y="32.66" font-size="14" text-anchor="start" fill="#303030" style="" >20</text>
<text x="56.00" y="257.20" font-size="14" text-anchor="start" fill="#303030" style="" >0</text>
<text x="52.50" y="184.45" font-size="14" text-anchor="start" fill="#303030" style="" >50</text>
<text x="49.00" y="111.70" font-size="14" text-anchor="start" fill="#303030" style="" >100</text>
<text transform="translate(33.4,45.2) rotate(-90)" font-size="21" text-anchor="middle" fill="#303030"><tspan font-style="italic">V</tspan><tspan font-size="12" dy="3.5">eff</tspan></text>
<text transform="translate(34.3,179.5) rotate(-90)" font-size="22" text-anchor="middle" fill="#303030" font-style="italic">t</text>
<clipPath id="cg"><rect x="75.95" y="333.6" width="371.55" height="250.79999999999995"/></clipPath>
<line x1="111.50" y1="333.60" x2="111.50" y2="584.40" stroke="#808080" stroke-width="1.1" />
<line x1="219.60" y1="333.60" x2="219.60" y2="584.40" stroke="#808080" stroke-width="1.1" />
<line x1="399.85" y1="333.60" x2="399.85" y2="584.40" stroke="#808080" stroke-width="1.1" />
<path d="M75.95,396.30 L77.96,396.28 L79.97,396.26 L81.99,396.24 L84.00,396.21 L86.01,396.19 L88.02,396.17 L90.03,396.15 L92.04,396.13 L94.06,396.11 L96.07,396.08 L98.08,396.06 L100.09,396.04 L102.10,396.02 L104.12,396.00 L106.13,395.98 L108.14,395.96 L110.15,395.93 L112.16,395.91 L114.18,395.88 L116.19,395.85 L118.20,395.82 L120.21,395.79 L122.22,395.76 L124.23,395.73 L126.25,395.70 L128.26,395.67 L130.27,395.64 L132.28,395.61 L134.29,395.58 L136.31,395.55 L138.32,395.52 L140.33,395.49 L142.34,395.46 L144.35,395.43 L146.37,395.40 L148.38,395.37 L150.39,395.34 L152.40,395.31 L154.41,395.28 L156.42,395.25 L158.44,395.22 L160.45,395.19 L162.46,395.16 L164.47,395.13 L166.48,395.09 L168.50,395.06 L170.51,395.03 L172.52,395.00 L174.53,394.97 L176.54,394.94 L178.55,394.91 L180.57,394.88 L182.58,394.85 L184.59,394.82 L186.60,394.79 L188.61,394.76 L190.63,394.73 L192.64,394.70 L194.65,394.67 L196.66,394.64 L198.67,394.61 L200.69,394.58 L202.70,394.55 L204.71,394.52 L206.72,394.49 L208.73,394.46 L210.74,394.43 L212.76,394.40 L214.77,394.37 L216.78,394.34 L218.79,394.31 L220.80,394.28 L222.82,394.26 L224.83,394.23 L226.84,394.20 L228.85,394.18 L230.86,394.15 L232.88,394.12 L234.89,394.10 L236.90,394.07 L238.91,394.04 L240.92,394.02 L242.93,393.99 L244.95,393.96 L246.96,393.94 L248.97,393.91 L250.98,393.88 L252.99,393.86 L255.01,393.83 L257.02,393.80 L259.03,393.78 L261.04,393.75 L263.05,393.72 L265.06,393.69 L267.08,393.67 L269.09,393.64 L271.10,393.61 L273.11,393.59 L275.12,393.56 L277.14,393.53 L279.15,393.51 L281.16,393.48 L283.17,393.45 L285.18,393.43 L287.20,393.40 L289.21,393.37 L291.22,393.35 L293.23,393.32 L295.24,393.29 L297.25,393.27 L299.27,393.24 L301.28,393.21 L303.29,393.19 L305.30,393.16 L307.31,393.13 L309.33,393.11 L311.34,393.08 L313.35,393.05 L315.36,393.03 L317.37,393.00 L319.38,392.97 L321.40,392.95 L323.41,392.92 L325.42,392.89 L327.43,392.87 L329.44,392.84 L331.46,392.81 L333.47,392.79 L335.48,392.77 L337.49,392.76 L339.50,392.74 L341.52,392.73 L343.53,392.71 L345.54,392.69 L347.55,392.68 L349.56,392.66 L351.57,392.65 L353.59,392.63 L355.60,392.62 L357.61,392.60 L359.62,392.59 L361.63,392.57 L363.65,392.56 L365.66,392.54 L367.67,392.52 L369.68,392.51 L371.69,392.49 L373.71,392.48 L375.72,392.46 L377.73,392.45 L379.74,392.43 L381.75,392.42 L383.76,392.40 L385.78,392.39 L387.79,392.37 L389.80,392.35" fill="none" stroke="#bdbdbd" stroke-width="3.4" stroke-linejoin="round" />
<path d="M395.00,392.31 L397.02,392.30 L399.04,392.28 L401.06,392.27 L403.08,392.25 L405.10,392.24 L407.12,392.22 L409.13,392.21 L411.15,392.19 L413.17,392.17 L415.19,392.16 L417.21,392.14 L419.23,392.13 L421.25,392.11 L423.27,392.10 L425.29,392.08 L427.31,392.07 L429.33,392.05 L431.35,392.04 L433.37,392.02 L435.38,392.00 L437.40,391.99 L439.42,391.97 L441.44,391.96 L443.46,391.94 L445.48,391.93 L447.50,391.91" fill="none" stroke="#bdbdbd" stroke-width="3.4" stroke-linejoin="round" />
<path d="M75.95,396.30 L77.95,396.65 L79.95,396.99 L81.95,397.34 L83.95,397.68 L85.95,398.03 L87.95,398.38 L89.95,398.72 L91.95,399.07 L93.96,399.41 L95.96,399.76 L97.96,400.11 L99.96,400.45 L101.96,400.80 L103.96,401.14 L105.96,401.49 L107.96,401.84 L109.96,402.18 L111.96,402.55 L113.96,402.94 L115.96,403.34 L117.96,403.73 L119.96,404.12 L121.96,404.52 L123.96,404.91 L125.97,405.30 L127.97,405.70 L129.97,406.09 L131.97,406.48 L133.97,406.93 L135.97,407.46 L137.97,407.98 L139.97,408.51 L141.97,409.04 L143.97,409.56 L145.97,410.09 L147.97,410.62 L149.97,411.14 L151.97,411.67 L153.97,412.20 L155.97,412.72 L157.98,413.25 L159.98,413.78 L161.98,414.30 L163.98,414.82 L165.98,415.34 L167.98,415.86 L169.98,416.37 L171.98,416.89 L173.98,417.41 L175.98,417.93 L177.98,418.45 L179.98,418.96 L181.98,419.48 L183.98,420.00 L185.98,420.52 L187.98,421.03 L189.99,421.55 L191.99,422.03 L193.99,422.49 L195.99,422.96 L197.99,423.43 L199.99,423.90 L201.99,424.36 L203.99,424.83 L205.99,425.30 L207.99,425.76 L209.99,426.45 L211.99,427.14 L213.99,427.83 L215.99,428.52 L217.99,429.21 L219.99,429.90 L222.00,430.42 L224.00,430.94 L226.00,431.46 L228.00,431.98 L230.00,432.50 L232.00,433.02 L234.00,433.54 L236.00,434.30 L238.00,435.07" fill="none" stroke="#bdbdbd" stroke-width="3.4" stroke-linejoin="round" />
<path d="M238.00,435.07 L240.40,436.20 L248.00,441.30 L255.90,447.20 L257.30,450.80 L259.80,473.10" fill="none" stroke="#bdbdbd" stroke-width="3.4" stroke-linejoin="round" />
<path d="M260.30,484.30 L261.90,518.20" fill="none" stroke="#bdbdbd" stroke-width="3.4" stroke-linejoin="round" />
<path d="M266.20,525.15 L268.25,525.16 L270.29,525.17 L272.34,525.17 L274.39,525.18 L276.44,525.19 L278.48,525.20 L280.53,525.20 L282.58,525.21 L284.62,525.22 L286.67,525.22 L288.72,525.23 L290.76,525.24 L292.81,525.25 L294.86,525.25 L296.91,525.26 L298.95,525.27 L301.00,525.27" fill="none" stroke="#bdbdbd" stroke-width="3.4" stroke-linejoin="round" />
<path d="M310.00,525.30 L312.05,525.31 L314.11,525.32 L316.16,525.33 L318.21,525.33 L320.26,525.34 L322.32,525.35 L324.37,525.35 L326.42,525.36 L328.47,525.37 L330.53,525.37 L332.58,525.38 L334.63,525.39 L336.68,525.40 L338.74,525.40 L340.79,525.41 L342.84,525.42 L344.89,525.42 L346.95,525.43 L349.00,525.44" fill="none" stroke="#bdbdbd" stroke-width="3.4" stroke-linejoin="round" />
<path d="M357.50,525.47 L359.50,525.47 L361.50,525.48 L363.50,525.49 L365.50,525.49 L367.50,525.50 L369.50,525.51 L371.50,525.51 L373.50,525.52 L375.50,525.53 L377.50,525.54 L379.50,525.54 L381.50,525.55 L383.50,525.56 L385.50,525.56 L387.50,525.57 L389.50,525.58" fill="none" stroke="#bdbdbd" stroke-width="3.4" stroke-linejoin="round" />
<path d="M396.50,525.60 L398.57,525.61 L400.65,525.61 L402.73,525.62 L404.80,525.63 L406.88,525.64 L408.95,525.64 L411.02,525.65 L413.10,525.66 L415.18,525.66 L417.25,525.67 L419.32,525.68 L421.40,525.69 L423.48,525.69 L425.55,525.70 L427.62,525.71 L429.70,525.71 L431.77,525.72 L433.85,525.73 L435.93,525.74 L438.00,525.74" fill="none" stroke="#bdbdbd" stroke-width="3.4" stroke-linejoin="round" />
<path d="M76.00,396.41 L76.29,396.44 L76.57,396.47 L76.86,396.50 L77.14,396.53 L77.43,396.56 L77.72,396.59 L78.00,396.62 L78.29,396.65 L78.57,396.68 L78.86,396.71 L79.14,396.74 L79.43,396.77 L79.72,396.80 L80.00,396.83 L80.29,396.86 L80.57,396.89 L80.86,396.92 L81.15,396.95 L81.43,396.98 L81.72,397.01 L82.00,397.04 L82.29,397.07 L82.57,397.10 L82.86,397.13 L83.15,397.16 L83.43,397.19 L83.72,397.22 L84.00,397.25 L84.29,397.28 L84.58,397.31 L84.86,397.34 L85.15,397.37 L85.43,397.39 L85.72,397.42 L86.00,397.45 L86.29,397.48 L86.58,397.51 L86.86,397.54 L87.15,397.57 L87.43,397.60 L87.72,397.63 L88.01,397.66 L88.29,397.68 L88.58,397.71 L88.86,397.74 L89.15,397.77 L89.43,397.80 L89.72,397.83 L90.01,397.86 L90.29,397.89 L90.58,397.92 L90.86,397.94 L91.15,397.97 L91.44,398.00 L91.72,398.03 L92.01,398.06 L92.29,398.09 L92.58,398.12 L92.87,398.14 L93.15,398.17 L93.44,398.20 L93.72,398.23 L94.01,398.26 L94.29,398.29 L94.58,398.32 L94.87,398.34 L95.15,398.37 L95.44,398.40 L95.72,398.43 L96.01,398.46 L96.30,398.49 L96.58,398.52 L96.87,398.54 L97.15,398.57 L97.44,398.60 L97.72,398.63 L98.01,398.66 L98.30,398.69 L98.58,398.71 L98.87,398.74 L99.15,398.77 L99.44,398.80 L99.73,398.83 L100.01,398.86 L100.30,398.88 L100.58,398.91 L100.87,398.94 L101.15,398.97 L101.44,399.00 L101.73,399.02 L102.01,399.05 L102.30,399.08 L102.58,399.11 L102.87,399.14 L103.16,399.17 L103.44,399.19 L103.73,399.22 L104.01,399.25 L104.30,399.28 L104.59,399.31 L104.87,399.34 L105.16,399.36 L105.44,399.39 L105.73,399.42 L106.01,399.45 L106.30,399.48 L106.59,399.50 L106.87,399.53 L107.16,399.56 L107.44,399.59 L107.73,399.62 L108.02,399.64 L108.30,399.67 L108.59,399.70 L108.87,399.73 L109.16,399.76 L109.44,399.79 L109.73,399.81 L110.02,399.84 L110.30,399.87 L110.59,399.90 L110.87,399.93 L111.16,399.95 L111.45,399.98 L111.73,400.01 L112.02,400.04 L112.30,400.07 L112.59,400.09 L112.87,400.12 L113.16,400.15 L113.45,400.18 L113.73,400.21 L114.02,400.23 L114.30,400.26 L114.59,400.29 L114.88,400.32 L115.16,400.35 L115.45,400.38 L115.73,400.40 L116.02,400.43 L116.30,400.46 L116.59,400.49 L116.88,400.52 L117.16,400.54 L117.45,400.57 L117.73,400.60 L118.02,400.63 L118.31,400.66 L118.59,400.68 L118.88,400.71 L119.16,400.74 L119.45,400.77 L119.74,400.80 L120.02,400.82 L120.31,400.85 L120.59,400.88 L120.88,400.91 L121.16,400.94 L121.45,400.97 L121.74,400.99 L122.02,401.02 L122.31,401.05 L122.59,401.08 L122.88,401.11 L123.17,401.13 L123.45,401.16 L123.74,401.19 L124.02,401.22 L124.31,401.25 L124.59,401.28 L124.88,401.30 L125.17,401.33 L125.45,401.36 L125.74,401.39 L126.02,401.42 L126.31,401.44 L126.60,401.47 L126.88,401.50 L127.17,401.53 L127.45,401.56 L127.74,401.59 L128.02,401.61 L128.31,401.64 L128.60,401.67 L128.88,401.70 L129.17,401.73 L129.45,401.76 L129.74,401.78 L130.03,401.81 L130.31,401.84 L130.60,401.87 L130.88,401.90 L131.17,401.93 L131.45,401.95 L131.74,401.98 L132.03,402.01 L132.31,402.04 L132.60,402.07 L132.88,402.10 L133.17,402.12 L133.46,402.15 L133.74,402.18 L134.03,402.21 L134.31,402.24 L134.60,402.27 L134.89,402.30 L135.17,402.32 L135.46,402.35 L135.74,402.38 L136.03,402.41 L136.31,402.44 L136.60,402.47 L136.89,402.49 L137.17,402.52 L137.46,402.55 L137.74,402.58 L138.03,402.61 L138.32,402.64 L138.60,402.67 L138.89,402.70 L139.17,402.72 L139.46,402.75 L139.74,402.78 L140.03,402.81 L140.32,402.84 L140.60,402.87 L140.89,402.90 L141.17,402.92 L141.46,402.95 L141.75,402.98 L142.03,403.01 L142.32,403.04 L142.60,403.07 L142.89,403.10 L143.17,403.13 L143.46,403.16 L143.75,403.18 L144.03,403.21 L144.32,403.24 L144.60,403.27 L144.89,403.30 L145.18,403.33 L145.46,403.36 L145.75,403.39 L146.03,403.42 L146.32,403.44 L146.60,403.47 L146.89,403.50 L147.18,403.53 L147.46,403.56 L147.75,403.59 L148.03,403.62 L148.32,403.65 L148.61,403.68 L148.89,403.71 L149.18,403.74 L149.46,403.77 L149.75,403.79 L150.04,403.82 L150.32,403.85 L150.61,403.88 L150.89,403.91 L151.18,403.94 L151.46,403.97 L151.75,404.00 L152.04,404.03 L152.32,404.06 L152.61,404.09 L152.89,404.12 L153.18,404.15 L153.47,404.18 L153.75,404.21 L154.04,404.23 L154.32,404.26 L154.61,404.29 L154.89,404.32 L155.18,404.35 L155.47,404.38 L155.75,404.41 L156.04,404.44 L156.32,404.47 L156.61,404.50 L156.90,404.53 L157.18,404.56 L157.47,404.59 L157.75,404.62 L158.04,404.65 L158.32,404.68 L158.61,404.71 L158.90,404.74 L159.18,404.77 L159.47,404.80 L159.75,404.83 L160.04,404.86 L160.33,404.89 L160.61,404.92 L160.90,404.95 L161.18,404.98 L161.47,405.01 L161.75,405.04 L162.04,405.07 L162.33,405.10 L162.61,405.13 L162.90,405.16 L163.18,405.19 L163.47,405.22 L163.76,405.25 L164.04,405.28 L164.33,405.31 L164.61,405.34 L164.90,405.37 L165.19,405.40 L165.47,405.43 L165.76,405.46 L166.04,405.49 L166.33,405.52 L166.61,405.55 L166.90,405.58 L167.19,405.61 L167.47,405.64 L167.76,405.67 L168.04,405.70 L168.33,405.74 L168.62,405.77 L168.90,405.80 L169.19,405.83 L169.47,405.86 L169.76,405.89 L170.04,405.92 L170.33,405.95 L170.62,405.98 L170.90,406.01 L171.19,406.04 L171.47,406.07 L171.76,406.10 L172.05,406.14 L172.33,406.17 L172.62,406.20 L172.90,406.23 L173.19,406.26 L173.47,406.29 L173.76,406.32 L174.05,406.35 L174.33,406.38 L174.62,406.42 L174.90,406.45 L175.19,406.48 L175.48,406.51 L175.76,406.54 L176.05,406.57 L176.33,406.60 L176.62,406.63 L176.91,406.67 L177.19,406.70 L177.48,406.73 L177.76,406.76 L178.05,406.79 L178.33,406.82 L178.62,406.85 L178.91,406.89 L179.19,406.92 L179.48,406.95 L179.76,406.98 L180.05,407.01 L180.34,407.04 L180.62,407.08 L180.91,407.11 L181.19,407.14 L181.48,407.17 L181.76,407.20 L182.05,407.24 L182.34,407.27 L182.62,407.30 L182.91,407.33 L183.19,407.36 L183.48,407.40 L183.77,407.43 L184.05,407.46 L184.34,407.49 L184.62,407.53 L184.91,407.56 L185.19,407.59 L185.48,407.62 L185.77,407.65 L186.05,407.69 L186.34,407.72 L186.62,407.75 L186.91,407.78 L187.20,407.82 L187.48,407.85 L187.77,407.88 L188.05,407.92 L188.34,407.95 L188.62,407.98 L188.91,408.01 L189.20,408.05 L189.48,408.08 L189.77,408.11 L190.05,408.14 L190.34,408.18 L190.63,408.21 L190.91,408.24 L191.20,408.28 L191.48,408.31 L191.77,408.34 L192.06,408.38 L192.34,408.41 L192.63,408.44 L192.91,408.48 L193.20,408.51 L193.48,408.54 L193.77,408.58 L194.06,408.61 L194.34,408.64 L194.63,408.68 L194.91,408.71 L195.20,408.74 L195.49,408.78 L195.77,408.81 L196.06,408.84 L196.34,408.88 L196.63,408.91 L196.91,408.95 L197.20,408.98 L197.49,409.01 L197.77,409.05 L198.06,409.08 L198.34,409.12 L198.63,409.15 L198.92,409.18 L199.20,409.22 L199.49,409.25 L199.77,409.29 L200.06,409.32 L200.34,409.36 L200.63,409.39 L200.92,409.42 L201.20,409.46 L201.49,409.49 L201.77,409.53 L202.06,409.56 L202.35,409.60 L202.63,409.63 L202.92,409.67 L203.20,409.70 L203.49,409.74 L203.77,409.77 L204.06,409.81 L204.35,409.84 L204.63,409.88 L204.92,409.91 L205.20,409.95 L205.49,409.98 L205.78,410.02 L206.06,410.05 L206.35,410.09 L206.63,410.12 L206.92,410.16 L207.21,410.19 L207.49,410.23 L207.78,410.26 L208.06,410.30 L208.35,410.33 L208.63,410.37 L208.92,410.41 L209.21,410.44 L209.49,410.48 L209.78,410.51 L210.06,410.55 L210.35,410.58 L210.64,410.62 L210.92,410.66 L211.21,410.69 L211.49,410.73 L211.78,410.76 L212.06,410.80 L212.35,410.84 L212.64,410.87 L212.92,410.91 L213.21,410.95 L213.49,410.98 L213.78,411.02 L214.07,411.06 L214.35,411.09 L214.64,411.13 L214.92,411.17 L215.21,411.20 L215.49,411.24 L215.78,411.28 L216.07,411.31 L216.35,411.35 L216.64,411.39 L216.92,411.42 L217.21,411.46 L217.50,411.50 L217.78,411.54 L218.07,411.57 L218.35,411.61 L218.64,411.65 L218.93,411.68 L219.21,411.72 L219.50,411.76 L219.78,411.80 L220.07,411.83 L220.35,411.87 L220.64,411.91 L220.93,411.95 L221.21,411.99 L221.50,412.02 L221.78,412.06 L222.07,412.10 L222.36,412.14 L222.64,412.18 L222.93,412.21 L223.21,412.25 L223.50,412.29 L223.78,412.33 L224.07,412.37 L224.36,412.41 L224.64,412.44 L224.93,412.48 L225.21,412.52 L225.50,412.56 L225.79,412.60 L226.07,412.64 L226.36,412.68 L226.64,412.72 L226.93,412.76 L227.21,412.79 L227.50,412.83 L227.79,412.87 L228.07,412.91 L228.36,412.95 L228.64,412.99 L228.93,413.03 L229.22,413.07 L229.50,413.11 L229.79,413.15 L230.07,413.19 L230.36,413.23 L230.64,413.27 L230.93,413.31 L231.22,413.35 L231.50,413.39 L231.79,413.43 L232.07,413.47 L232.36,413.51 L232.65,413.55 L232.93,413.59 L233.22,413.63 L233.50,413.67 L233.79,413.71 L234.08,413.75 L234.36,413.79 L234.65,413.83 L234.93,413.87 L235.22,413.91 L235.50,413.96 L235.79,414.00 L236.08,414.04 L236.36,414.08 L236.65,414.12 L236.93,414.16 L237.22,414.20 L237.51,414.24 L237.79,414.29 L238.08,414.33 L238.36,414.37 L238.65,414.41 L238.93,414.45 L239.22,414.49 L239.51,414.54 L239.79,414.58 L240.08,414.62 L240.36,414.66 L240.65,414.71 L240.94,414.75 L241.22,414.79 L241.51,414.83 L241.79,414.87 L242.08,414.92 L242.36,414.96 L242.65,415.00 L242.94,415.05 L243.22,415.09 L243.51,415.13 L243.79,415.17 L244.08,415.22 L244.37,415.26 L244.65,415.30 L244.94,415.35 L245.22,415.39 L245.51,415.43 L245.79,415.48 L246.08,415.52 L246.37,415.57 L246.65,415.61 L246.94,415.65 L247.22,415.70 L247.51,415.74 L247.80,415.79 L248.08,415.83 L248.37,415.87 L248.65,415.92 L248.94,415.96 L249.23,416.01 L249.51,416.05 L249.80,416.10 L250.08,416.14 L250.37,416.19 L250.65,416.23 L250.94,416.28 L251.23,416.32 L251.51,416.37 L251.80,416.41 L252.08,416.46 L252.37,416.50 L252.66,416.55 L252.94,416.59 L253.23,416.64 L253.51,416.69 L253.80,416.73 L254.08,416.78 L254.37,416.82 L254.66,416.87 L254.94,416.92 L255.23,416.96 L255.51,417.01 L255.80,417.06 L256.09,417.10 L256.37,417.15 L256.66,417.20 L256.94,417.24 L257.23,417.29 L257.51,417.34 L257.80,417.38 L258.09,417.43 L258.37,417.48 L258.66,417.53 L258.94,417.57 L259.23,417.62 L259.52,417.67 L259.80,417.72 L260.09,417.77 L260.37,417.81 L260.66,417.86 L260.94,417.91 L261.23,417.96 L261.52,418.01 L261.80,418.06 L262.09,418.10 L262.37,418.15 L262.66,418.20 L262.95,418.25 L263.23,418.30 L263.52,418.35 L263.80,418.40 L264.09,418.45 L264.38,418.50 L264.66,418.55 L264.95,418.60 L265.23,418.65 L265.52,418.70 L265.80,418.75 L266.09,418.80 L266.38,418.85 L266.66,418.90 L266.95,418.95 L267.23,419.00 L267.52,419.05 L267.81,419.10 L268.09,419.15 L268.38,419.20 L268.66,419.25 L268.95,419.30 L269.23,419.35 L269.52,419.41 L269.81,419.46 L270.09,419.51 L270.38,419.56 L270.66,419.61 L270.95,419.66 L271.24,419.72 L271.52,419.77 L271.81,419.82 L272.09,419.87 L272.38,419.93 L272.66,419.98 L272.95,420.03 L273.24,420.08 L273.52,420.14 L273.81,420.19 L274.09,420.24 L274.38,420.30 L274.67,420.35 L274.95,420.40 L275.24,420.46 L275.52,420.51 L275.81,420.57 L276.10,420.62 L276.38,420.68 L276.67,420.73 L276.95,420.78 L277.24,420.84 L277.52,420.89 L277.81,420.95 L278.10,421.00 L278.38,421.06 L278.67,421.11 L278.95,421.17 L279.24,421.23 L279.53,421.28 L279.81,421.34 L280.10,421.39 L280.38,421.45 L280.67,421.51 L280.95,421.56 L281.24,421.62 L281.53,421.68 L281.81,421.73 L282.10,421.79 L282.38,421.85 L282.67,421.90 L282.96,421.96 L283.24,422.02 L283.53,422.08 L283.81,422.13 L284.10,422.19 L284.38,422.25 L284.67,422.31 L284.96,422.37 L285.24,422.43 L285.53,422.48 L285.81,422.54 L286.10,422.60 L286.39,422.66 L286.67,422.72 L286.96,422.78 L287.24,422.84 L287.53,422.90 L287.81,422.96 L288.10,423.02 L288.39,423.08 L288.67,423.14 L288.96,423.20 L289.24,423.26 L289.53,423.32 L289.82,423.38 L290.10,423.44 L290.39,423.51 L290.67,423.57 L290.96,423.63 L291.25,423.69 L291.53,423.75 L291.82,423.82 L292.10,423.88 L292.39,423.94 L292.67,424.00 L292.96,424.07 L293.25,424.13 L293.53,424.19 L293.82,424.26 L294.10,424.32 L294.39,424.38 L294.68,424.45 L294.96,424.51 L295.25,424.58 L295.53,424.64 L295.82,424.71 L296.10,424.77 L296.39,424.84 L296.68,424.90 L296.96,424.97 L297.25,425.03 L297.53,425.10 L297.82,425.16 L298.11,425.23 L298.39,425.30 L298.68,425.36 L298.96,425.43 L299.25,425.50 L299.53,425.56 L299.82,425.63 L300.11,425.70 L300.39,425.77 L300.68,425.84 L300.96,425.90 L301.25,425.97 L301.54,426.04 L301.82,426.11 L302.11,426.18 L302.39,426.25 L302.68,426.32 L302.96,426.39 L303.25,426.46 L303.54,426.53 L303.82,426.60 L304.11,426.67 L304.39,426.74 L304.68,426.81 L304.97,426.88 L305.25,426.95 L305.54,427.03 L305.82,427.10 L306.11,427.17 L306.40,427.24 L306.68,427.31 L306.97,427.39 L307.25,427.46 L307.54,427.53 L307.82,427.61 L308.11,427.68 L308.40,427.76 L308.68,427.83 L308.97,427.91 L309.25,427.98 L309.54,428.06 L309.83,428.13 L310.11,428.21 L310.40,428.28 L310.68,428.36 L310.97,428.44 L311.25,428.51 L311.54,428.59 L311.83,428.67 L312.11,428.74 L312.40,428.82 L312.68,428.90 L312.97,428.98 L313.26,429.06 L313.54,429.14 L313.83,429.22 L314.11,429.30 L314.40,429.38 L314.68,429.46 L314.97,429.54 L315.26,429.62 L315.54,429.70 L315.83,429.78 L316.11,429.86 L316.40,429.94 L316.69,430.03 L316.97,430.11 L317.26,430.19 L317.54,430.28 L317.83,430.36 L318.11,430.44 L318.40,430.53 L318.69,430.61 L318.97,430.70 L319.26,430.78 L319.54,430.87 L319.83,430.96 L320.12,431.04 L320.40,431.13 L320.69,431.22 L320.97,431.30 L321.26,431.39 L321.55,431.48 L321.83,431.57 L322.12,431.66 L322.40,431.75 L322.69,431.84 L322.97,431.93 L323.26,432.02 L323.55,432.11 L323.83,432.20 L324.12,432.29 L324.40,432.38 L324.69,432.48 L324.98,432.57 L325.26,432.66 L325.55,432.76 L325.83,432.85 L326.12,432.95 L326.40,433.04 L326.69,433.14 L326.98,433.23 L327.26,433.33 L327.55,433.43 L327.83,433.52 L328.12,433.62 L328.41,433.72 L328.69,433.82 L328.98,433.92 L329.26,434.02 L329.55,434.12 L329.83,434.22 L330.12,434.32 L330.41,434.42 L330.69,434.53 L330.98,434.63 L331.26,434.73 L331.55,434.84 L331.84,434.94 L332.12,435.05 L332.41,435.15 L332.69,435.26 L332.98,435.37 L333.26,435.48 L333.55,435.58 L333.84,435.69 L334.12,435.80 L334.41,435.91 L334.69,436.02 L334.98,436.14 L335.27,436.25 L335.55,436.36 L335.84,436.47 L336.12,436.59 L336.41,436.70 L336.70,436.82 L336.98,436.93 L337.27,437.05 L337.55,437.17 L337.84,437.29 L338.12,437.41 L338.41,437.53 L338.70,437.65 L338.98,437.77 L339.27,437.89 L339.55,438.02 L339.84,438.14 L340.13,438.27 L340.41,438.39 L340.70,438.52 L340.98,438.65 L341.27,438.78 L341.55,438.91 L341.84,439.04 L342.13,439.17 L342.41,439.30 L342.70,439.44 L342.98,439.57 L343.27,439.71 L343.56,439.85 L343.84,439.98 L344.13,440.12 L344.41,440.26 L344.70,440.41 L344.98,440.55 L345.27,440.69 L345.56,440.84 L345.84,440.99 L346.13,441.14 L346.41,441.29 L346.70,441.44 L346.99,441.59 L347.27,441.74 L347.56,441.90 L347.84,442.06 L348.13,442.22 L348.42,442.38 L348.70,442.54 L348.99,442.71 L349.27,442.87 L349.56,443.04 L349.84,443.21 L350.13,443.38 L350.42,443.56 L350.70,443.73 L350.99,443.91 L351.27,444.09 L351.56,444.28 L351.85,444.46 L352.13,444.65 L352.42,444.84 L352.70,445.04 L352.99,445.23 L353.27,445.43 L353.56,445.64 L353.85,445.85 L354.13,446.06 L354.42,446.27 L354.70,446.49 L354.99,446.71 L355.28,446.94 L355.56,447.17 L355.85,447.40 L356.13,447.64 L356.42,447.89 L356.70,448.14 L356.99,448.40 L357.28,448.67 L357.56,448.94 L357.85,449.22 L358.13,449.51 L358.42,449.81 L358.71,450.12 L358.99,450.44 L359.28,450.77 L359.56,451.12 L359.85,451.49 L360.13,451.87 L360.42,452.28 L360.71,452.71 L360.99,453.17 L361.28,453.68 L361.56,454.24 L361.85,454.88 L362.14,455.63 L362.42,456.62 L362.71,459.00 L362.99,459.00 L363.28,459.00 L363.57,459.00 L363.85,459.00 L364.14,459.00 L364.42,459.00 L364.71,459.00 L364.99,459.00 L365.28,459.00 L365.57,459.00 L365.85,459.00 L366.14,459.00 L366.42,459.00 L366.71,459.00 L367.00,459.00 L367.28,459.00 L367.57,459.00 L367.85,459.00 L368.14,459.00 L368.42,459.00 L368.71,459.00 L369.00,459.00 L369.28,459.00 L369.57,459.00 L369.85,459.00 L370.14,459.00 L370.43,459.00 L370.71,459.00 L371.00,459.00 L371.28,459.00 L371.57,459.00 L371.85,459.00 L372.14,459.00 L372.43,459.00 L372.71,459.00 L373.00,459.00 L373.28,459.00 L373.57,459.00 L373.86,459.00 L374.14,459.00 L374.43,459.00 L374.71,459.00 L375.00,459.00 L375.28,459.00 L375.57,459.00 L375.86,459.00 L376.14,459.00 L376.43,459.00 L376.71,459.00 L377.00,459.00 L377.29,459.00 L377.57,459.00 L377.86,459.00 L378.14,459.00 L378.43,459.00 L378.72,459.00 L379.00,459.00 L379.29,459.00 L379.57,459.00 L379.86,459.00 L380.14,459.00 L380.43,459.00 L380.72,459.00 L381.00,459.00 L381.29,459.00 L381.57,459.00 L381.86,459.00 L382.15,459.00 L382.43,459.00 L382.72,459.00 L383.00,459.00 L383.29,459.00 L383.57,459.00 L383.86,459.00 L384.15,459.00 L384.43,459.00 L384.72,459.00 L385.00,459.00 L385.29,459.00 L385.58,459.00 L385.86,459.00 L386.15,459.00 L386.43,459.00 L386.72,459.00 L387.00,459.00 L387.29,459.00 L387.58,459.00 L387.86,459.00 L388.15,459.00 L388.43,459.00 L388.72,459.00 L389.01,459.00 L389.29,459.00 L389.58,459.00 L389.86,459.00 L390.15,459.00 L390.44,459.00 L390.72,459.00 L391.01,459.00 L391.29,459.00 L391.58,459.00 L391.86,459.00 L392.15,459.00 L392.44,459.00 L392.72,459.00 L393.01,459.00 L393.29,459.00 L393.58,459.00 L393.87,459.00 L394.15,459.00 L394.44,459.00 L394.72,459.00 L395.01,459.00 L395.29,459.00 L395.58,459.00 L395.87,459.00 L396.15,459.00 L396.44,459.00 L396.72,459.00 L397.01,459.00 L397.30,459.00 L397.58,459.00 L397.87,459.00 L398.15,459.00 L398.44,459.00 L398.72,459.00 L399.01,459.00 L399.30,459.00 L399.58,459.00 L399.87,459.00 L400.15,459.00 L400.44,459.00 L400.73,459.00 L401.01,459.00 L401.30,459.00 L401.58,459.00 L401.87,459.00 L402.15,459.00 L402.44,459.00 L402.73,459.00 L403.01,459.00 L403.30,459.00 L403.58,459.00 L403.87,459.00 L404.16,459.00 L404.44,459.00 L404.73,459.00 L405.01,459.00 L405.30,459.00 L405.59,459.00 L405.87,459.00 L406.16,459.00 L406.44,459.00 L406.73,459.00 L407.01,459.00 L407.30,459.00 L407.59,459.00 L407.87,459.00 L408.16,459.00 L408.44,459.00 L408.73,459.00 L409.02,459.00 L409.30,459.00 L409.59,459.00 L409.87,459.00 L410.16,459.00 L410.44,459.00 L410.73,459.00 L411.02,459.00 L411.30,459.00 L411.59,459.00 L411.87,459.00 L412.16,459.00 L412.45,459.00 L412.73,459.00 L413.02,459.00 L413.30,459.00 L413.59,459.00 L413.87,459.00 L414.16,459.00 L414.45,459.00 L414.73,459.00 L415.02,459.00 L415.30,459.00 L415.59,459.00 L415.88,459.00 L416.16,459.00 L416.45,459.00 L416.73,459.00 L417.02,459.00 L417.30,459.00 L417.59,459.00 L417.88,459.00 L418.16,459.00 L418.45,459.00 L418.73,459.00 L419.02,459.00 L419.31,459.00 L419.59,459.00 L419.88,459.00 L420.16,459.00 L420.45,459.00 L420.74,459.00 L421.02,459.00 L421.31,459.00 L421.59,459.00 L421.88,459.00 L422.16,459.00 L422.45,459.00 L422.74,459.00 L423.02,459.00 L423.31,459.00 L423.59,459.00 L423.88,459.00 L424.17,459.00 L424.45,459.00 L424.74,459.00 L425.02,459.00 L425.31,459.00 L425.59,459.00 L425.88,459.00 L426.17,459.00 L426.45,459.00 L426.74,459.00 L427.02,459.00 L427.31,459.00 L427.60,459.00 L427.88,459.00 L428.17,459.00 L428.45,459.00 L428.74,459.00 L429.02,459.00 L429.31,459.00 L429.60,459.00 L429.88,459.00 L430.17,459.00 L430.45,459.00 L430.74,459.00 L431.03,459.00 L431.31,459.00 L431.60,459.00 L431.88,459.00 L432.17,459.00 L432.45,459.00 L432.74,459.00 L433.03,459.00 L433.31,459.00 L433.60,459.00 L433.88,459.00 L434.17,459.00 L434.46,459.00 L434.74,459.00 L435.03,459.00 L435.31,459.00 L435.60,459.00 L435.89,459.00 L436.17,459.00 L436.46,459.00 L436.74,459.00 L437.03,459.00 L437.31,459.00 L437.60,459.00 L437.89,459.00 L438.17,459.00 L438.46,459.00 L438.74,459.00 L439.03,459.00 L439.32,459.00 L439.60,459.00 L439.89,459.00 L440.17,459.00 L440.46,459.00 L440.74,459.00 L441.03,459.00 L441.32,459.00 L441.60,459.00 L441.89,459.00 L442.17,459.00 L442.46,459.00 L442.75,459.00 L443.03,459.00 L443.32,459.00 L443.60,459.00 L443.89,459.00 L444.17,459.00 L444.46,459.00 L444.75,459.00 L445.03,459.00 L445.32,459.00 L445.60,459.00 L445.89,459.00 L446.18,459.00 L446.46,459.00 L446.75,459.00 L447.03,459.00 L447.32,459.00 L447.61,459.00" fill="none" stroke="#000" stroke-width="3.6" stroke-linejoin="round" clip-path="url(#cg)"/>
<line x1="75.95" y1="396.30" x2="80.25" y2="396.30" stroke="#333" stroke-width="1" />
<line x1="447.50" y1="396.30" x2="443.20" y2="396.30" stroke="#333" stroke-width="1" />
<line x1="75.95" y1="459.00" x2="80.25" y2="459.00" stroke="#333" stroke-width="1" />
<line x1="447.50" y1="459.00" x2="443.20" y2="459.00" stroke="#333" stroke-width="1" />
<line x1="75.95" y1="521.70" x2="80.25" y2="521.70" stroke="#333" stroke-width="1" />
<line x1="447.50" y1="521.70" x2="443.20" y2="521.70" stroke="#333" stroke-width="1" />
<line x1="104.59" y1="333.60" x2="104.59" y2="337.90" stroke="#333" stroke-width="1" />
<line x1="104.59" y1="584.40" x2="104.59" y2="580.10" stroke="#333" stroke-width="1" />
<circle cx="76.00" cy="396.41" r="4.6" fill="#ff0000"/>
<circle cx="76.13" cy="396.42" r="4.6" fill="#ff0000"/>
<circle cx="76.52" cy="396.47" r="4.6" fill="#ff0000"/>
<circle cx="77.16" cy="396.54" r="4.6" fill="#ff0000"/>
<circle cx="78.06" cy="396.63" r="4.6" fill="#ff0000"/>
<circle cx="79.22" cy="396.75" r="4.6" fill="#ff0000"/>
<circle cx="80.64" cy="396.90" r="4.6" fill="#ff0000"/>
<circle cx="82.32" cy="397.08" r="4.6" fill="#ff0000"/>
<circle cx="84.25" cy="397.27" r="4.6" fill="#ff0000"/>
<circle cx="86.45" cy="397.50" r="4.6" fill="#ff0000"/>
<circle cx="88.90" cy="397.75" r="4.6" fill="#ff0000"/>
<circle cx="91.60" cy="398.02" r="4.6" fill="#ff0000"/>
<circle cx="94.57" cy="398.32" r="4.6" fill="#ff0000"/>
<circle cx="97.79" cy="398.64" r="4.6" fill="#ff0000"/>
<circle cx="101.28" cy="398.98" r="4.6" fill="#ff0000"/>
<circle cx="105.02" cy="399.35" r="4.6" fill="#ff0000"/>
<circle cx="109.01" cy="399.74" r="4.6" fill="#ff0000"/>
<circle cx="113.27" cy="400.16" r="4.6" fill="#ff0000"/>
<circle cx="117.78" cy="400.60" r="4.6" fill="#ff0000"/>
<circle cx="122.55" cy="401.07" r="4.6" fill="#ff0000"/>
<circle cx="127.58" cy="401.57" r="4.6" fill="#ff0000"/>
<circle cx="132.87" cy="402.09" r="4.6" fill="#ff0000"/>
<circle cx="138.42" cy="402.65" r="4.6" fill="#ff0000"/>
<circle cx="144.22" cy="403.23" r="4.6" fill="#ff0000"/>
<circle cx="150.28" cy="403.85" r="4.6" fill="#ff0000"/>
<circle cx="156.60" cy="404.50" r="4.6" fill="#ff0000"/>
<circle cx="163.18" cy="405.19" r="4.6" fill="#ff0000"/>
<circle cx="170.01" cy="405.92" r="4.6" fill="#ff0000"/>
<circle cx="177.10" cy="406.69" r="4.6" fill="#ff0000"/>
<circle cx="184.46" cy="407.51" r="4.6" fill="#ff0000"/>
<circle cx="192.06" cy="408.38" r="4.6" fill="#ff0000"/>
<circle cx="199.93" cy="409.31" r="4.6" fill="#ff0000"/>
<circle cx="208.06" cy="410.30" r="4.6" fill="#ff0000"/>
<circle cx="216.44" cy="411.41" r="4.6" fill="#ff0000"/>
<circle cx="225.08" cy="412.79" r="4.6" fill="#ff0000"/>
<circle cx="233.98" cy="414.53" r="4.6" fill="#ff0000"/>
<circle cx="243.13" cy="416.74" r="4.6" fill="#ff0000"/>
<circle cx="252.55" cy="419.52" r="4.6" fill="#ff0000"/>
<circle cx="262.22" cy="422.98" r="4.6" fill="#ff0000"/>
<circle cx="272.15" cy="459.00" r="4.6" fill="#ff0000"/>
<circle cx="282.34" cy="459.00" r="4.6" fill="#ff0000"/>
<circle cx="292.78" cy="459.00" r="4.6" fill="#ff0000"/>
<circle cx="303.49" cy="459.00" r="4.6" fill="#ff0000"/>
<circle cx="314.45" cy="459.00" r="4.6" fill="#ff0000"/>
<circle cx="325.67" cy="459.00" r="4.6" fill="#ff0000"/>
<circle cx="337.14" cy="459.00" r="4.6" fill="#ff0000"/>
<circle cx="348.88" cy="459.00" r="4.6" fill="#ff0000"/>
<circle cx="360.87" cy="459.00" r="4.6" fill="#ff0000"/>
<circle cx="373.12" cy="459.00" r="4.6" fill="#ff0000"/>
<circle cx="385.63" cy="459.00" r="4.6" fill="#ff0000"/>
<circle cx="398.40" cy="459.00" r="4.6" fill="#ff0000"/>
<circle cx="411.42" cy="459.00" r="4.6" fill="#ff0000"/>
<circle cx="424.71" cy="459.00" r="4.6" fill="#ff0000"/>
<circle cx="438.25" cy="459.00" r="4.6" fill="#ff0000"/>
<path d="M71.60,398.77 L80.40,398.77 L76.00,391.37Z" fill="#0000ff"/>
<path d="M71.73,398.79 L80.53,398.79 L76.13,391.39Z" fill="#0000ff"/>
<path d="M72.12,398.86 L80.92,398.86 L76.52,391.46Z" fill="#0000ff"/>
<path d="M72.76,398.97 L81.56,398.97 L77.16,391.57Z" fill="#0000ff"/>
<path d="M73.66,399.12 L82.46,399.12 L78.06,391.72Z" fill="#0000ff"/>
<path d="M74.82,399.32 L83.62,399.32 L79.22,391.92Z" fill="#0000ff"/>
<path d="M76.24,399.57 L85.04,399.57 L80.64,392.17Z" fill="#0000ff"/>
<path d="M77.92,399.86 L86.72,399.86 L82.32,392.46Z" fill="#0000ff"/>
<path d="M79.85,400.19 L88.65,400.19 L84.25,392.79Z" fill="#0000ff"/>
<path d="M82.05,400.57 L90.85,400.57 L86.45,393.17Z" fill="#0000ff"/>
<path d="M84.50,401.00 L93.30,401.00 L88.90,393.60Z" fill="#0000ff"/>
<path d="M87.20,401.47 L96.00,401.47 L91.60,394.07Z" fill="#0000ff"/>
<path d="M90.17,401.98 L98.97,401.98 L94.57,394.58Z" fill="#0000ff"/>
<path d="M93.39,402.54 L102.19,402.54 L97.79,395.14Z" fill="#0000ff"/>
<path d="M96.88,403.14 L105.68,403.14 L101.28,395.74Z" fill="#0000ff"/>
<path d="M100.62,403.79 L109.42,403.79 L105.02,396.39Z" fill="#0000ff"/>
<path d="M104.61,404.48 L113.41,404.48 L109.01,397.08Z" fill="#0000ff"/>
<path d="M108.87,405.26 L117.67,405.26 L113.27,397.86Z" fill="#0000ff"/>
<path d="M113.38,406.15 L122.18,406.15 L117.78,398.75Z" fill="#0000ff"/>
<path d="M118.15,407.09 L126.95,407.09 L122.55,399.69Z" fill="#0000ff"/>
<path d="M123.18,408.08 L131.98,408.08 L127.58,400.68Z" fill="#0000ff"/>
<path d="M128.47,409.12 L137.27,409.12 L132.87,401.72Z" fill="#0000ff"/>
<path d="M134.02,410.56 L142.82,410.56 L138.42,403.16Z" fill="#0000ff"/>
<path d="M139.82,412.08 L148.62,412.08 L144.22,404.68Z" fill="#0000ff"/>
<path d="M145.88,413.68 L154.68,413.68 L150.28,406.28Z" fill="#0000ff"/>
<path d="M152.20,415.34 L161.00,415.34 L156.60,407.94Z" fill="#0000ff"/>
<path d="M158.78,417.07 L167.58,417.07 L163.18,409.67Z" fill="#0000ff"/>
<path d="M165.61,418.84 L174.41,418.84 L170.01,411.44Z" fill="#0000ff"/>
<path d="M172.70,420.67 L181.50,420.67 L177.10,413.27Z" fill="#0000ff"/>
<path d="M180.06,422.57 L188.86,422.57 L184.46,415.17Z" fill="#0000ff"/>
<path d="M187.66,424.50 L196.46,424.50 L192.06,417.10Z" fill="#0000ff"/>
<path d="M195.53,426.34 L204.33,426.34 L199.93,418.94Z" fill="#0000ff"/>
<path d="M203.66,428.23 L212.46,428.23 L208.06,420.83Z" fill="#0000ff"/>
<path d="M212.04,431.12 L220.84,431.12 L216.44,423.72Z" fill="#0000ff"/>
<path d="M220.68,433.67 L229.48,433.67 L225.08,426.27Z" fill="#0000ff"/>
<path d="M229.58,435.98 L238.38,435.98 L233.98,428.58Z" fill="#0000ff"/>
<path d="M238.73,439.49 L247.53,439.49 L243.13,432.09Z" fill="#0000ff"/>
<path d="M248.15,443.98 L256.95,443.98 L252.55,436.58Z" fill="#0000ff"/>
<path d="M257.82,448.85 L266.62,448.85 L262.22,441.45Z" fill="#0000ff"/>
<path d="M267.75,527.64 L276.55,527.64 L272.15,520.24Z" fill="#0000ff"/>
<path d="M277.94,527.68 L286.74,527.68 L282.34,520.28Z" fill="#0000ff"/>
<path d="M288.38,527.71 L297.18,527.71 L292.78,520.31Z" fill="#0000ff"/>
<path d="M299.09,527.75 L307.89,527.75 L303.49,520.35Z" fill="#0000ff"/>
<path d="M310.05,527.79 L318.85,527.79 L314.45,520.39Z" fill="#0000ff"/>
<path d="M321.27,527.82 L330.07,527.82 L325.67,520.42Z" fill="#0000ff"/>
<path d="M332.74,527.86 L341.54,527.86 L337.14,520.46Z" fill="#0000ff"/>
<path d="M344.48,527.90 L353.28,527.90 L348.88,520.50Z" fill="#0000ff"/>
<path d="M356.47,527.94 L365.27,527.94 L360.87,520.54Z" fill="#0000ff"/>
<path d="M368.72,527.99 L377.52,527.99 L373.12,520.59Z" fill="#0000ff"/>
<path d="M381.23,528.03 L390.03,528.03 L385.63,520.63Z" fill="#0000ff"/>
<path d="M394.00,528.07 L402.80,528.07 L398.40,520.67Z" fill="#0000ff"/>
<path d="M407.02,528.12 L415.82,528.12 L411.42,520.72Z" fill="#0000ff"/>
<path d="M420.31,528.16 L429.11,528.16 L424.71,520.76Z" fill="#0000ff"/>
<path d="M433.85,528.21 L442.65,528.21 L438.25,520.81Z" fill="#0000ff"/>
<path d="M71.60,393.90 L80.40,393.90 L76.00,401.10Z" fill="#ff00ff"/>
<path d="M71.73,393.90 L80.53,393.90 L76.13,401.10Z" fill="#ff00ff"/>
<path d="M72.12,393.89 L80.92,393.89 L76.52,401.09Z" fill="#ff00ff"/>
<path d="M72.76,393.89 L81.56,393.89 L77.16,401.09Z" fill="#ff00ff"/>
<path d="M73.66,393.88 L82.46,393.88 L78.06,401.08Z" fill="#ff00ff"/>
<path d="M74.82,393.87 L83.62,393.87 L79.22,401.07Z" fill="#ff00ff"/>
<path d="M76.24,393.85 L85.04,393.85 L80.64,401.05Z" fill="#ff00ff"/>
<path d="M77.92,393.83 L86.72,393.83 L82.32,401.03Z" fill="#ff00ff"/>
<path d="M79.85,393.81 L88.65,393.81 L84.25,401.01Z" fill="#ff00ff"/>
<path d="M82.05,393.79 L90.85,393.79 L86.45,400.99Z" fill="#ff00ff"/>
<path d="M84.50,393.76 L93.30,393.76 L88.90,400.96Z" fill="#ff00ff"/>
<path d="M87.20,393.73 L96.00,393.73 L91.60,400.93Z" fill="#ff00ff"/>
<path d="M90.17,393.70 L98.97,393.70 L94.57,400.90Z" fill="#ff00ff"/>
<path d="M93.39,393.67 L102.19,393.67 L97.79,400.87Z" fill="#ff00ff"/>
<path d="M96.88,393.63 L105.68,393.63 L101.28,400.83Z" fill="#ff00ff"/>
<path d="M100.62,393.59 L109.42,393.59 L105.02,400.79Z" fill="#ff00ff"/>
<path d="M104.61,393.55 L113.41,393.55 L109.01,400.75Z" fill="#ff00ff"/>
<path d="M108.87,393.49 L117.67,393.49 L113.27,400.69Z" fill="#ff00ff"/>
<path d="M113.38,393.42 L122.18,393.42 L117.78,400.62Z" fill="#ff00ff"/>
<path d="M118.15,393.35 L126.95,393.35 L122.55,400.55Z" fill="#ff00ff"/>
<path d="M123.18,393.28 L131.98,393.28 L127.58,400.48Z" fill="#ff00ff"/>
<path d="M128.47,393.20 L137.27,393.20 L132.87,400.40Z" fill="#ff00ff"/>
<path d="M134.02,393.12 L142.82,393.12 L138.42,400.32Z" fill="#ff00ff"/>
<path d="M139.82,393.03 L148.62,393.03 L144.22,400.23Z" fill="#ff00ff"/>
<path d="M145.88,392.94 L154.68,392.94 L150.28,400.14Z" fill="#ff00ff"/>
<path d="M152.20,392.84 L161.00,392.84 L156.60,400.04Z" fill="#ff00ff"/>
<path d="M158.78,392.75 L167.58,392.75 L163.18,399.95Z" fill="#ff00ff"/>
<path d="M165.61,392.64 L174.41,392.64 L170.01,399.84Z" fill="#ff00ff"/>
<path d="M172.70,392.54 L181.50,392.54 L177.10,399.74Z" fill="#ff00ff"/>
<path d="M180.06,392.43 L188.86,392.43 L184.46,399.63Z" fill="#ff00ff"/>
<path d="M187.66,392.31 L196.46,392.31 L192.06,399.51Z" fill="#ff00ff"/>
<path d="M195.53,392.20 L204.33,392.20 L199.93,399.40Z" fill="#ff00ff"/>
<path d="M203.66,392.07 L212.46,392.07 L208.06,399.27Z" fill="#ff00ff"/>
<path d="M212.04,391.95 L220.84,391.95 L216.44,399.15Z" fill="#ff00ff"/>
<path d="M220.68,391.83 L229.48,391.83 L225.08,399.03Z" fill="#ff00ff"/>
<path d="M229.58,391.71 L238.38,391.71 L233.98,398.91Z" fill="#ff00ff"/>
<path d="M238.73,391.59 L247.53,391.59 L243.13,398.79Z" fill="#ff00ff"/>
<path d="M248.15,391.46 L256.95,391.46 L252.55,398.66Z" fill="#ff00ff"/>
<path d="M257.82,391.33 L266.62,391.33 L262.22,398.53Z" fill="#ff00ff"/>
<path d="M267.75,391.20 L276.55,391.20 L272.15,398.40Z" fill="#ff00ff"/>
<path d="M277.94,391.07 L286.74,391.07 L282.34,398.27Z" fill="#ff00ff"/>
<path d="M288.38,390.93 L297.18,390.93 L292.78,398.13Z" fill="#ff00ff"/>
<path d="M299.09,390.78 L307.89,390.78 L303.49,397.98Z" fill="#ff00ff"/>
<path d="M310.05,390.64 L318.85,390.64 L314.45,397.84Z" fill="#ff00ff"/>
<path d="M321.27,390.49 L330.07,390.49 L325.67,397.69Z" fill="#ff00ff"/>
<path d="M332.74,390.36 L341.54,390.36 L337.14,397.56Z" fill="#ff00ff"/>
<path d="M344.48,390.27 L353.28,390.27 L348.88,397.47Z" fill="#ff00ff"/>
<path d="M356.47,390.18 L365.27,390.18 L360.87,397.38Z" fill="#ff00ff"/>
<path d="M368.72,390.08 L377.52,390.08 L373.12,397.28Z" fill="#ff00ff"/>
<path d="M381.23,389.99 L390.03,389.99 L385.63,397.19Z" fill="#ff00ff"/>
<path d="M394.00,389.89 L402.80,389.89 L398.40,397.09Z" fill="#ff00ff"/>
<path d="M407.02,389.79 L415.82,389.79 L411.42,396.99Z" fill="#ff00ff"/>
<path d="M420.31,389.69 L429.11,389.69 L424.71,396.89Z" fill="#ff00ff"/>
<path d="M433.85,389.58 L442.65,389.58 L438.25,396.78Z" fill="#ff00ff"/>
<rect x="75.95" y="333.60" width="371.55" height="250.80" fill="none" stroke="#505050" stroke-width="1"/>
<text x="59.00" y="338.10" font-size="14" text-anchor="start" fill="#303030" style="" >1</text>
<text x="48.50" y="400.80" font-size="14" text-anchor="start" fill="#303030" style="" >0.5</text>
<text x="59.00" y="463.50" font-size="14" text-anchor="start" fill="#303030" style="" >0</text>
<line x1="38.77" y1="522.60" x2="47.31" y2="522.60" stroke="#303030" stroke-width="0.75" />
<text x="48.50" y="526.20" font-size="14" text-anchor="start" fill="#303030" style="" >0.5</text>
<line x1="49.27" y1="585.30" x2="57.81" y2="585.30" stroke="#303030" stroke-width="0.75" />
<text x="59.00" y="588.90" font-size="14" text-anchor="start" fill="#303030" style="" >1</text>
<text x="72.50" y="603.60" font-size="14" text-anchor="start" fill="#303030" style="" >0</text>
<text x="101.09" y="603.60" font-size="14" text-anchor="start" fill="#303030" style="" >1</text>
<text x="27.00" y="339.80" font-size="20" text-anchor="start" fill="#303030" style="" letter-spacing="0.5">(g)</text>
<text x="112.80" y="357.60" font-size="20" text-anchor="start" fill="#303030" style="" letter-spacing="0.5">(d)</text>
<text x="220.90" y="357.60" font-size="20" text-anchor="start" fill="#303030" style="" letter-spacing="0.5">(e)</text>
<text x="400.25" y="357.60" font-size="20" text-anchor="start" fill="#303030" style="" letter-spacing="0.5">(f)</text>
<text x="314.60" y="382.60" font-size="20" text-anchor="start" fill="#e8209a" style="font-style:italic" >ϕ</text>
<text x="325.80" y="385.50" font-size="15" text-anchor="start" fill="#e8209a" style="" >max</text>
<text x="317.80" y="481.20" font-size="20" text-anchor="start" fill="#ff2626" style="font-style:italic" >ϕ</text>
<text x="329.00" y="483.60" font-size="15" text-anchor="start" fill="#ff2626" style="" >ave</text>
<text x="316.00" y="546.20" font-size="20" text-anchor="start" fill="#2a2aff" style="font-style:italic" >ϕ</text>
<text x="327.00" y="548.70" font-size="15" text-anchor="start" fill="#2a2aff" style="" >min</text>
<text transform="translate(20.1,459) rotate(-90)" font-size="20" text-anchor="middle" fill="#303030" font-style="italic">ϕ</text>
<g transform="translate(245.3,630.6) scale(1.14,1)"><text x="0" y="0" font-size="20.5" font-style="italic" fill="#303030">E</text></g>
<text x="261.30" y="624.20" font-size="14" text-anchor="start" fill="#303030" style="" >(2)</text>
</g>
</svg>
</body></html>
